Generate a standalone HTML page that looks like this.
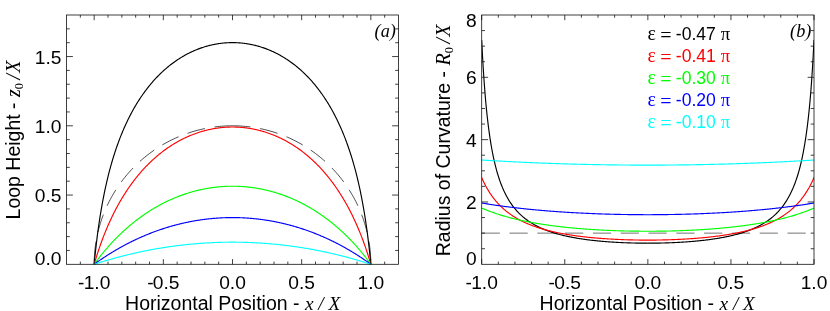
<!DOCTYPE html>
<html><head><meta charset="utf-8"><title>chart</title>
<style>html,body{margin:0;padding:0;background:#fff;overflow:hidden}svg{display:block;will-change:transform}</style></head>
<body>
<svg width="830" height="311" viewBox="0 0 830 311">
<rect width="830" height="311" fill="#fff"/>
<defs><clipPath id="c2"><rect x="481.7" y="15.0" width="332.3" height="249.3"/></clipPath></defs>
<path d="M94.17 264.30 L94.18 262.12 L94.23 259.95 L94.32 257.78 L94.44 255.60 L94.59 253.43 L94.78 251.27 L95.00 249.10 L95.26 246.94 L95.55 244.79 L95.87 242.63 L96.23 240.49 L96.62 238.35 L97.04 236.21 L97.50 234.09 L97.99 231.97 L98.51 229.86 L99.07 227.75 L99.66 225.66 L100.28 223.58 L100.94 221.50 L101.62 219.44 L102.34 217.38 L103.10 215.34 L103.88 213.31 L104.70 211.30 L105.54 209.30 L106.42 207.31 L107.33 205.33 L108.27 203.37 L109.24 201.42 L110.25 199.49 L111.28 197.58 L112.34 195.68 L113.43 193.80 L114.55 191.93 L115.70 190.09 L116.88 188.26 L118.09 186.45 L119.32 184.66 L120.59 182.89 L121.88 181.14 L123.20 179.41 L124.54 177.70 L125.91 176.02 L127.31 174.35 L128.73 172.71 L130.18 171.09 L131.66 169.49 L133.16 167.92 L134.68 166.37 L136.23 164.84 L137.80 163.34 L139.40 161.86 L141.02 160.41 L142.66 158.98 L144.32 157.58 L146.01 156.21 L147.71 154.86 L149.44 153.54 L151.19 152.25 L152.96 150.99 L154.75 149.75 L156.55 148.54 L158.38 147.36 L160.22 146.21 L162.08 145.09 L163.96 143.99 L165.86 142.93 L167.77 141.90 L169.70 140.90 L171.64 139.92 L173.60 138.98 L175.57 138.07 L177.56 137.19 L179.56 136.34 L181.58 135.53 L183.60 134.74 L185.64 133.99 L187.69 133.27 L189.75 132.58 L191.82 131.92 L193.91 131.30 L196.00 130.71 L198.10 130.15 L200.21 129.63 L202.32 129.14 L204.45 128.68 L206.58 128.25 L208.72 127.86 L210.86 127.51 L213.01 127.18 L215.16 126.89 L217.32 126.64 L219.48 126.41 L221.65 126.23 L223.81 126.07 L225.98 125.95 L228.15 125.87 L230.33 125.82 L232.50 125.80" fill="none" stroke="#000" stroke-width="0.7" stroke-linejoin="round" stroke-dasharray="18.2 9.6" stroke-dashoffset="23.0"/>
<path d="M370.83 264.30 L370.82 262.12 L370.77 259.95 L370.68 257.78 L370.56 255.60 L370.41 253.43 L370.22 251.27 L370.00 249.10 L369.74 246.94 L369.45 244.79 L369.13 242.63 L368.77 240.49 L368.38 238.35 L367.96 236.21 L367.50 234.09 L367.01 231.97 L366.49 229.86 L365.93 227.75 L365.34 225.66 L364.72 223.58 L364.06 221.50 L363.38 219.44 L362.66 217.38 L361.90 215.34 L361.12 213.31 L360.30 211.30 L359.46 209.30 L358.58 207.31 L357.67 205.33 L356.73 203.37 L355.76 201.42 L354.75 199.49 L353.72 197.58 L352.66 195.68 L351.57 193.80 L350.45 191.93 L349.30 190.09 L348.12 188.26 L346.91 186.45 L345.68 184.66 L344.41 182.89 L343.12 181.14 L341.80 179.41 L340.46 177.70 L339.09 176.02 L337.69 174.35 L336.27 172.71 L334.82 171.09 L333.34 169.49 L331.84 167.92 L330.32 166.37 L328.77 164.84 L327.20 163.34 L325.60 161.86 L323.98 160.41 L322.34 158.98 L320.68 157.58 L318.99 156.21 L317.29 154.86 L315.56 153.54 L313.81 152.25 L312.04 150.99 L310.25 149.75 L308.45 148.54 L306.62 147.36 L304.78 146.21 L302.92 145.09 L301.04 143.99 L299.14 142.93 L297.23 141.90 L295.30 140.90 L293.36 139.92 L291.40 138.98 L289.43 138.07 L287.44 137.19 L285.44 136.34 L283.42 135.53 L281.40 134.74 L279.36 133.99 L277.31 133.27 L275.25 132.58 L273.18 131.92 L271.09 131.30 L269.00 130.71 L266.90 130.15 L264.79 129.63 L262.68 129.14 L260.55 128.68 L258.42 128.25 L256.28 127.86 L254.14 127.51 L251.99 127.18 L249.84 126.89 L247.68 126.64 L245.52 126.41 L243.35 126.23 L241.19 126.07 L239.02 125.95 L236.85 125.87 L234.67 125.82 L232.50 125.80" fill="none" stroke="#000" stroke-width="0.7" stroke-linejoin="round" stroke-dasharray="18.2 9.6" stroke-dashoffset="23.0"/>
<path d="M94.17 264.30 L94.86 257.25 L95.55 250.70 L96.24 244.57 L96.93 238.83 L97.62 233.43 L98.32 228.32 L99.01 223.49 L99.70 218.89 L100.39 214.52 L101.08 210.34 L101.78 206.35 L102.47 202.52 L103.16 198.85 L103.85 195.33 L104.54 191.93 L105.23 188.66 L105.92 185.51 L106.62 182.46 L107.31 179.51 L108.00 176.66 L108.69 173.90 L109.38 171.22 L110.07 168.62 L110.77 166.10 L111.46 163.64 L112.15 161.26 L112.84 158.93 L113.53 156.67 L114.22 154.47 L114.92 152.32 L115.61 150.23 L116.30 148.19 L116.99 146.19 L117.68 144.24 L118.38 142.34 L119.07 140.48 L119.76 138.66 L120.45 136.88 L121.14 135.14 L121.83 133.44 L122.53 131.77 L123.22 130.13 L123.91 128.53 L124.60 126.96 L125.29 125.42 L125.98 123.91 L126.67 122.43 L127.37 120.98 L128.06 119.55 L128.75 118.15 L129.44 116.78 L130.13 115.43 L130.82 114.11 L131.52 112.81 L132.21 111.53 L132.90 110.27 L133.59 109.04 L134.28 107.83 L134.97 106.63 L135.67 105.46 L136.36 104.31 L137.05 103.17 L137.74 102.06 L138.43 100.96 L139.12 99.88 L139.82 98.82 L140.51 97.78 L141.20 96.75 L141.89 95.74 L142.58 94.74 L143.27 93.76 L143.97 92.79 L144.66 91.84 L145.35 90.91 L146.04 89.98 L146.73 89.08 L147.43 88.18 L148.12 87.30 L148.81 86.43 L149.50 85.58 L150.19 84.74 L150.88 83.91 L151.57 83.09 L152.27 82.29 L152.96 81.49 L153.65 80.71 L154.34 79.94 L155.03 79.19 L155.73 78.44 L156.42 77.70 L157.11 76.98 L157.80 76.26 L158.49 75.56 L159.18 74.87 L159.88 74.18 L160.57 73.51 L161.26 72.85 L161.95 72.19 L162.64 71.55 L163.33 70.91 L164.02 70.29 L164.72 69.67 L165.41 69.06 L166.10 68.47 L166.79 67.88 L167.48 67.30 L168.18 66.72 L168.87 66.16 L169.56 65.61 L170.25 65.06 L170.94 64.52 L171.63 63.99 L172.32 63.47 L173.02 62.95 L173.71 62.45 L174.40 61.95 L175.09 61.46 L175.78 60.98 L176.47 60.50 L177.17 60.03 L177.86 59.57 L178.55 59.12 L179.24 58.67 L179.93 58.23 L180.62 57.80 L181.32 57.38 L182.01 56.96 L182.70 56.55 L183.39 56.15 L184.08 55.75 L184.78 55.36 L185.47 54.97 L186.16 54.60 L186.85 54.23 L187.54 53.86 L188.23 53.51 L188.93 53.16 L189.62 52.81 L190.31 52.47 L191.00 52.14 L191.69 51.82 L192.38 51.50 L193.07 51.18 L193.77 50.88 L194.46 50.58 L195.15 50.28 L195.84 49.99 L196.53 49.71 L197.22 49.43 L197.92 49.16 L198.61 48.90 L199.30 48.64 L199.99 48.39 L200.68 48.14 L201.38 47.90 L202.07 47.66 L202.76 47.43 L203.45 47.21 L204.14 46.99 L204.83 46.77 L205.53 46.57 L206.22 46.36 L206.91 46.17 L207.60 45.97 L208.29 45.79 L208.98 45.61 L209.67 45.43 L210.37 45.26 L211.06 45.10 L211.75 44.94 L212.44 44.79 L213.13 44.64 L213.82 44.50 L214.52 44.36 L215.21 44.23 L215.90 44.10 L216.59 43.98 L217.28 43.86 L217.97 43.75 L218.67 43.65 L219.36 43.55 L220.05 43.45 L220.74 43.36 L221.43 43.28 L222.12 43.20 L222.82 43.12 L223.51 43.05 L224.20 42.99 L224.89 42.93 L225.58 42.88 L226.28 42.83 L226.97 42.79 L227.66 42.75 L228.35 42.71 L229.04 42.69 L229.73 42.66 L230.43 42.65 L231.12 42.63 L231.81 42.62 L232.50 42.62 L233.19 42.62 L233.88 42.63 L234.58 42.65 L235.27 42.66 L235.96 42.69 L236.65 42.71 L237.34 42.75 L238.03 42.79 L238.72 42.83 L239.42 42.88 L240.11 42.93 L240.80 42.99 L241.49 43.05 L242.18 43.12 L242.88 43.20 L243.57 43.28 L244.26 43.36 L244.95 43.45 L245.64 43.55 L246.33 43.65 L247.03 43.75 L247.72 43.86 L248.41 43.98 L249.10 44.10 L249.79 44.23 L250.48 44.36 L251.18 44.50 L251.87 44.64 L252.56 44.79 L253.25 44.94 L253.94 45.10 L254.63 45.26 L255.33 45.43 L256.02 45.61 L256.71 45.79 L257.40 45.97 L258.09 46.17 L258.78 46.36 L259.48 46.57 L260.17 46.77 L260.86 46.99 L261.55 47.21 L262.24 47.43 L262.93 47.66 L263.62 47.90 L264.32 48.14 L265.01 48.39 L265.70 48.64 L266.39 48.90 L267.08 49.16 L267.78 49.43 L268.47 49.71 L269.16 49.99 L269.85 50.28 L270.54 50.58 L271.23 50.88 L271.93 51.18 L272.62 51.50 L273.31 51.82 L274.00 52.14 L274.69 52.47 L275.38 52.81 L276.07 53.16 L276.77 53.51 L277.46 53.86 L278.15 54.23 L278.84 54.60 L279.53 54.97 L280.23 55.36 L280.92 55.75 L281.61 56.15 L282.30 56.55 L282.99 56.96 L283.68 57.38 L284.38 57.80 L285.07 58.23 L285.76 58.67 L286.45 59.12 L287.14 59.57 L287.83 60.03 L288.52 60.50 L289.22 60.98 L289.91 61.46 L290.60 61.95 L291.29 62.45 L291.98 62.95 L292.68 63.47 L293.37 63.99 L294.06 64.52 L294.75 65.06 L295.44 65.61 L296.13 66.16 L296.83 66.72 L297.52 67.30 L298.21 67.88 L298.90 68.47 L299.59 69.06 L300.28 69.67 L300.98 70.29 L301.67 70.91 L302.36 71.55 L303.05 72.19 L303.74 72.85 L304.43 73.51 L305.12 74.18 L305.82 74.87 L306.51 75.56 L307.20 76.26 L307.89 76.98 L308.58 77.70 L309.27 78.44 L309.97 79.19 L310.66 79.94 L311.35 80.71 L312.04 81.49 L312.73 82.29 L313.43 83.09 L314.12 83.91 L314.81 84.74 L315.50 85.58 L316.19 86.43 L316.88 87.30 L317.57 88.18 L318.27 89.08 L318.96 89.98 L319.65 90.91 L320.34 91.84 L321.03 92.79 L321.73 93.76 L322.42 94.74 L323.11 95.74 L323.80 96.75 L324.49 97.78 L325.18 98.82 L325.88 99.88 L326.57 100.96 L327.26 102.06 L327.95 103.17 L328.64 104.31 L329.33 105.46 L330.03 106.63 L330.72 107.83 L331.41 109.04 L332.10 110.27 L332.79 111.53 L333.48 112.81 L334.18 114.11 L334.87 115.43 L335.56 116.78 L336.25 118.15 L336.94 119.55 L337.63 120.98 L338.33 122.43 L339.02 123.91 L339.71 125.42 L340.40 126.96 L341.09 128.53 L341.78 130.13 L342.48 131.77 L343.17 133.44 L343.86 135.14 L344.55 136.88 L345.24 138.66 L345.93 140.48 L346.62 142.34 L347.32 144.24 L348.01 146.19 L348.70 148.19 L349.39 150.23 L350.08 152.32 L350.77 154.47 L351.47 156.67 L352.16 158.93 L352.85 161.26 L353.54 163.64 L354.23 166.10 L354.93 168.62 L355.62 171.22 L356.31 173.90 L357.00 176.66 L357.69 179.51 L358.38 182.46 L359.08 185.51 L359.77 188.66 L360.46 191.93 L361.15 195.33 L361.84 198.85 L362.53 202.52 L363.23 206.35 L363.92 210.34 L364.61 214.52 L365.30 218.89 L365.99 223.49 L366.68 228.32 L367.38 233.43 L368.07 238.83 L368.76 244.57 L369.45 250.70 L370.14 257.25 L370.83 264.30" fill="none" stroke="#000000" stroke-width="1.15" stroke-linejoin="round" />
<path d="M94.17 264.30 L94.86 261.94 L95.55 259.64 L96.24 257.40 L96.93 255.20 L97.62 253.05 L98.32 250.95 L99.01 248.89 L99.70 246.87 L100.39 244.90 L101.08 242.97 L101.78 241.07 L102.47 239.21 L103.16 237.39 L103.85 235.60 L104.54 233.85 L105.23 232.13 L105.92 230.44 L106.62 228.78 L107.31 227.15 L108.00 225.55 L108.69 223.98 L109.38 222.43 L110.07 220.91 L110.77 219.42 L111.46 217.95 L112.15 216.51 L112.84 215.09 L113.53 213.69 L114.22 212.31 L114.92 210.96 L115.61 209.62 L116.30 208.31 L116.99 207.02 L117.68 205.75 L118.38 204.49 L119.07 203.26 L119.76 202.05 L120.45 200.85 L121.14 199.67 L121.83 198.50 L122.53 197.36 L123.22 196.23 L123.91 195.12 L124.60 194.02 L125.29 192.94 L125.98 191.87 L126.67 190.82 L127.37 189.78 L128.06 188.76 L128.75 187.75 L129.44 186.75 L130.13 185.77 L130.82 184.80 L131.52 183.85 L132.21 182.91 L132.90 181.98 L133.59 181.06 L134.28 180.15 L134.97 179.26 L135.67 178.38 L136.36 177.51 L137.05 176.65 L137.74 175.80 L138.43 174.97 L139.12 174.14 L139.82 173.33 L140.51 172.52 L141.20 171.73 L141.89 170.95 L142.58 170.17 L143.27 169.41 L143.97 168.66 L144.66 167.91 L145.35 167.18 L146.04 166.45 L146.73 165.74 L147.43 165.03 L148.12 164.33 L148.81 163.65 L149.50 162.97 L150.19 162.29 L150.88 161.63 L151.57 160.98 L152.27 160.33 L152.96 159.70 L153.65 159.07 L154.34 158.45 L155.03 157.83 L155.73 157.23 L156.42 156.63 L157.11 156.04 L157.80 155.46 L158.49 154.88 L159.18 154.32 L159.88 153.76 L160.57 153.21 L161.26 152.66 L161.95 152.12 L162.64 151.59 L163.33 151.07 L164.02 150.55 L164.72 150.04 L165.41 149.54 L166.10 149.05 L166.79 148.56 L167.48 148.07 L168.18 147.60 L168.87 147.13 L169.56 146.67 L170.25 146.21 L170.94 145.76 L171.63 145.32 L172.32 144.88 L173.02 144.45 L173.71 144.02 L174.40 143.60 L175.09 143.19 L175.78 142.78 L176.47 142.38 L177.17 141.99 L177.86 141.60 L178.55 141.21 L179.24 140.84 L179.93 140.46 L180.62 140.10 L181.32 139.74 L182.01 139.38 L182.70 139.03 L183.39 138.69 L184.08 138.35 L184.78 138.02 L185.47 137.69 L186.16 137.37 L186.85 137.06 L187.54 136.74 L188.23 136.44 L188.93 136.14 L189.62 135.84 L190.31 135.55 L191.00 135.27 L191.69 134.99 L192.38 134.72 L193.07 134.45 L193.77 134.18 L194.46 133.93 L195.15 133.67 L195.84 133.42 L196.53 133.18 L197.22 132.94 L197.92 132.71 L198.61 132.48 L199.30 132.26 L199.99 132.04 L200.68 131.82 L201.38 131.61 L202.07 131.41 L202.76 131.21 L203.45 131.02 L204.14 130.83 L204.83 130.64 L205.53 130.46 L206.22 130.29 L206.91 130.12 L207.60 129.95 L208.29 129.79 L208.98 129.63 L209.67 129.48 L210.37 129.33 L211.06 129.19 L211.75 129.05 L212.44 128.92 L213.13 128.79 L213.82 128.67 L214.52 128.55 L215.21 128.43 L215.90 128.32 L216.59 128.22 L217.28 128.12 L217.97 128.02 L218.67 127.93 L219.36 127.84 L220.05 127.76 L220.74 127.68 L221.43 127.61 L222.12 127.54 L222.82 127.47 L223.51 127.41 L224.20 127.36 L224.89 127.30 L225.58 127.26 L226.28 127.21 L226.97 127.18 L227.66 127.14 L228.35 127.11 L229.04 127.09 L229.73 127.07 L230.43 127.05 L231.12 127.04 L231.81 127.04 L232.50 127.03 L233.19 127.04 L233.88 127.04 L234.58 127.05 L235.27 127.07 L235.96 127.09 L236.65 127.11 L237.34 127.14 L238.03 127.18 L238.72 127.21 L239.42 127.26 L240.11 127.30 L240.80 127.36 L241.49 127.41 L242.18 127.47 L242.88 127.54 L243.57 127.61 L244.26 127.68 L244.95 127.76 L245.64 127.84 L246.33 127.93 L247.03 128.02 L247.72 128.12 L248.41 128.22 L249.10 128.32 L249.79 128.43 L250.48 128.55 L251.18 128.67 L251.87 128.79 L252.56 128.92 L253.25 129.05 L253.94 129.19 L254.63 129.33 L255.33 129.48 L256.02 129.63 L256.71 129.79 L257.40 129.95 L258.09 130.12 L258.78 130.29 L259.48 130.46 L260.17 130.64 L260.86 130.83 L261.55 131.02 L262.24 131.21 L262.93 131.41 L263.62 131.61 L264.32 131.82 L265.01 132.04 L265.70 132.26 L266.39 132.48 L267.08 132.71 L267.78 132.94 L268.47 133.18 L269.16 133.42 L269.85 133.67 L270.54 133.93 L271.23 134.18 L271.93 134.45 L272.62 134.72 L273.31 134.99 L274.00 135.27 L274.69 135.55 L275.38 135.84 L276.07 136.14 L276.77 136.44 L277.46 136.74 L278.15 137.06 L278.84 137.37 L279.53 137.69 L280.23 138.02 L280.92 138.35 L281.61 138.69 L282.30 139.03 L282.99 139.38 L283.68 139.74 L284.38 140.10 L285.07 140.46 L285.76 140.84 L286.45 141.21 L287.14 141.60 L287.83 141.99 L288.52 142.38 L289.22 142.78 L289.91 143.19 L290.60 143.60 L291.29 144.02 L291.98 144.45 L292.68 144.88 L293.37 145.32 L294.06 145.76 L294.75 146.21 L295.44 146.67 L296.13 147.13 L296.83 147.60 L297.52 148.07 L298.21 148.56 L298.90 149.05 L299.59 149.54 L300.28 150.04 L300.98 150.55 L301.67 151.07 L302.36 151.59 L303.05 152.12 L303.74 152.66 L304.43 153.21 L305.12 153.76 L305.82 154.32 L306.51 154.88 L307.20 155.46 L307.89 156.04 L308.58 156.63 L309.27 157.23 L309.97 157.83 L310.66 158.45 L311.35 159.07 L312.04 159.70 L312.73 160.33 L313.43 160.98 L314.12 161.63 L314.81 162.29 L315.50 162.97 L316.19 163.65 L316.88 164.33 L317.57 165.03 L318.27 165.74 L318.96 166.45 L319.65 167.18 L320.34 167.91 L321.03 168.66 L321.73 169.41 L322.42 170.17 L323.11 170.95 L323.80 171.73 L324.49 172.52 L325.18 173.33 L325.88 174.14 L326.57 174.97 L327.26 175.80 L327.95 176.65 L328.64 177.51 L329.33 178.38 L330.03 179.26 L330.72 180.15 L331.41 181.06 L332.10 181.98 L332.79 182.91 L333.48 183.85 L334.18 184.80 L334.87 185.77 L335.56 186.75 L336.25 187.75 L336.94 188.76 L337.63 189.78 L338.33 190.82 L339.02 191.87 L339.71 192.94 L340.40 194.02 L341.09 195.12 L341.78 196.23 L342.48 197.36 L343.17 198.50 L343.86 199.67 L344.55 200.85 L345.24 202.05 L345.93 203.26 L346.62 204.49 L347.32 205.75 L348.01 207.02 L348.70 208.31 L349.39 209.62 L350.08 210.96 L350.77 212.31 L351.47 213.69 L352.16 215.09 L352.85 216.51 L353.54 217.95 L354.23 219.42 L354.93 220.91 L355.62 222.43 L356.31 223.98 L357.00 225.55 L357.69 227.15 L358.38 228.78 L359.08 230.44 L359.77 232.13 L360.46 233.85 L361.15 235.60 L361.84 237.39 L362.53 239.21 L363.23 241.07 L363.92 242.97 L364.61 244.90 L365.30 246.87 L365.99 248.89 L366.68 250.95 L367.38 253.05 L368.07 255.20 L368.76 257.40 L369.45 259.64 L370.14 261.94 L370.83 264.30" fill="none" stroke="#ff0000" stroke-width="1.15" stroke-linejoin="round" />
<path d="M94.17 264.30 L94.86 263.35 L95.55 262.41 L96.24 261.48 L96.93 260.56 L97.62 259.65 L98.32 258.75 L99.01 257.85 L99.70 256.97 L100.39 256.09 L101.08 255.22 L101.78 254.36 L102.47 253.51 L103.16 252.67 L103.85 251.83 L104.54 251.00 L105.23 250.18 L105.92 249.37 L106.62 248.57 L107.31 247.77 L108.00 246.98 L108.69 246.20 L109.38 245.42 L110.07 244.66 L110.77 243.90 L111.46 243.14 L112.15 242.40 L112.84 241.66 L113.53 240.93 L114.22 240.20 L114.92 239.49 L115.61 238.77 L116.30 238.07 L116.99 237.37 L117.68 236.68 L118.38 235.99 L119.07 235.32 L119.76 234.64 L120.45 233.98 L121.14 233.32 L121.83 232.67 L122.53 232.02 L123.22 231.38 L123.91 230.74 L124.60 230.11 L125.29 229.49 L125.98 228.87 L126.67 228.26 L127.37 227.66 L128.06 227.06 L128.75 226.46 L129.44 225.87 L130.13 225.29 L130.82 224.71 L131.52 224.14 L132.21 223.57 L132.90 223.01 L133.59 222.46 L134.28 221.91 L134.97 221.36 L135.67 220.82 L136.36 220.29 L137.05 219.76 L137.74 219.23 L138.43 218.71 L139.12 218.20 L139.82 217.69 L140.51 217.19 L141.20 216.69 L141.89 216.19 L142.58 215.71 L143.27 215.22 L143.97 214.74 L144.66 214.27 L145.35 213.80 L146.04 213.33 L146.73 212.87 L147.43 212.42 L148.12 211.96 L148.81 211.52 L149.50 211.08 L150.19 210.64 L150.88 210.21 L151.57 209.78 L152.27 209.36 L152.96 208.94 L153.65 208.52 L154.34 208.11 L155.03 207.71 L155.73 207.30 L156.42 206.91 L157.11 206.51 L157.80 206.13 L158.49 205.74 L159.18 205.36 L159.88 204.99 L160.57 204.61 L161.26 204.25 L161.95 203.88 L162.64 203.52 L163.33 203.17 L164.02 202.82 L164.72 202.47 L165.41 202.13 L166.10 201.79 L166.79 201.46 L167.48 201.13 L168.18 200.80 L168.87 200.48 L169.56 200.16 L170.25 199.84 L170.94 199.53 L171.63 199.23 L172.32 198.92 L173.02 198.62 L173.71 198.33 L174.40 198.04 L175.09 197.75 L175.78 197.47 L176.47 197.19 L177.17 196.91 L177.86 196.64 L178.55 196.37 L179.24 196.10 L179.93 195.84 L180.62 195.59 L181.32 195.33 L182.01 195.08 L182.70 194.84 L183.39 194.59 L184.08 194.35 L184.78 194.12 L185.47 193.89 L186.16 193.66 L186.85 193.44 L187.54 193.21 L188.23 193.00 L188.93 192.78 L189.62 192.57 L190.31 192.37 L191.00 192.16 L191.69 191.96 L192.38 191.77 L193.07 191.58 L193.77 191.39 L194.46 191.20 L195.15 191.02 L195.84 190.84 L196.53 190.67 L197.22 190.50 L197.92 190.33 L198.61 190.16 L199.30 190.00 L199.99 189.84 L200.68 189.69 L201.38 189.54 L202.07 189.39 L202.76 189.25 L203.45 189.11 L204.14 188.97 L204.83 188.84 L205.53 188.71 L206.22 188.58 L206.91 188.46 L207.60 188.33 L208.29 188.22 L208.98 188.10 L209.67 187.99 L210.37 187.89 L211.06 187.78 L211.75 187.68 L212.44 187.59 L213.13 187.49 L213.82 187.40 L214.52 187.32 L215.21 187.23 L215.90 187.15 L216.59 187.07 L217.28 187.00 L217.97 186.93 L218.67 186.86 L219.36 186.80 L220.05 186.74 L220.74 186.68 L221.43 186.63 L222.12 186.58 L222.82 186.53 L223.51 186.49 L224.20 186.45 L224.89 186.41 L225.58 186.37 L226.28 186.34 L226.97 186.31 L227.66 186.29 L228.35 186.27 L229.04 186.25 L229.73 186.24 L230.43 186.22 L231.12 186.22 L231.81 186.21 L232.50 186.21 L233.19 186.21 L233.88 186.22 L234.58 186.22 L235.27 186.24 L235.96 186.25 L236.65 186.27 L237.34 186.29 L238.03 186.31 L238.72 186.34 L239.42 186.37 L240.11 186.41 L240.80 186.45 L241.49 186.49 L242.18 186.53 L242.88 186.58 L243.57 186.63 L244.26 186.68 L244.95 186.74 L245.64 186.80 L246.33 186.86 L247.03 186.93 L247.72 187.00 L248.41 187.07 L249.10 187.15 L249.79 187.23 L250.48 187.32 L251.18 187.40 L251.87 187.49 L252.56 187.59 L253.25 187.68 L253.94 187.78 L254.63 187.89 L255.33 187.99 L256.02 188.10 L256.71 188.22 L257.40 188.33 L258.09 188.46 L258.78 188.58 L259.48 188.71 L260.17 188.84 L260.86 188.97 L261.55 189.11 L262.24 189.25 L262.93 189.39 L263.62 189.54 L264.32 189.69 L265.01 189.84 L265.70 190.00 L266.39 190.16 L267.08 190.33 L267.78 190.50 L268.47 190.67 L269.16 190.84 L269.85 191.02 L270.54 191.20 L271.23 191.39 L271.93 191.58 L272.62 191.77 L273.31 191.96 L274.00 192.16 L274.69 192.37 L275.38 192.57 L276.07 192.78 L276.77 193.00 L277.46 193.21 L278.15 193.44 L278.84 193.66 L279.53 193.89 L280.23 194.12 L280.92 194.35 L281.61 194.59 L282.30 194.84 L282.99 195.08 L283.68 195.33 L284.38 195.59 L285.07 195.84 L285.76 196.10 L286.45 196.37 L287.14 196.64 L287.83 196.91 L288.52 197.19 L289.22 197.47 L289.91 197.75 L290.60 198.04 L291.29 198.33 L291.98 198.62 L292.68 198.92 L293.37 199.23 L294.06 199.53 L294.75 199.84 L295.44 200.16 L296.13 200.48 L296.83 200.80 L297.52 201.13 L298.21 201.46 L298.90 201.79 L299.59 202.13 L300.28 202.47 L300.98 202.82 L301.67 203.17 L302.36 203.52 L303.05 203.88 L303.74 204.25 L304.43 204.61 L305.12 204.99 L305.82 205.36 L306.51 205.74 L307.20 206.13 L307.89 206.51 L308.58 206.91 L309.27 207.30 L309.97 207.71 L310.66 208.11 L311.35 208.52 L312.04 208.94 L312.73 209.36 L313.43 209.78 L314.12 210.21 L314.81 210.64 L315.50 211.08 L316.19 211.52 L316.88 211.96 L317.57 212.42 L318.27 212.87 L318.96 213.33 L319.65 213.80 L320.34 214.27 L321.03 214.74 L321.73 215.22 L322.42 215.71 L323.11 216.19 L323.80 216.69 L324.49 217.19 L325.18 217.69 L325.88 218.20 L326.57 218.71 L327.26 219.23 L327.95 219.76 L328.64 220.29 L329.33 220.82 L330.03 221.36 L330.72 221.91 L331.41 222.46 L332.10 223.01 L332.79 223.57 L333.48 224.14 L334.18 224.71 L334.87 225.29 L335.56 225.87 L336.25 226.46 L336.94 227.06 L337.63 227.66 L338.33 228.26 L339.02 228.87 L339.71 229.49 L340.40 230.11 L341.09 230.74 L341.78 231.38 L342.48 232.02 L343.17 232.67 L343.86 233.32 L344.55 233.98 L345.24 234.64 L345.93 235.32 L346.62 235.99 L347.32 236.68 L348.01 237.37 L348.70 238.07 L349.39 238.77 L350.08 239.49 L350.77 240.20 L351.47 240.93 L352.16 241.66 L352.85 242.40 L353.54 243.14 L354.23 243.90 L354.93 244.66 L355.62 245.42 L356.31 246.20 L357.00 246.98 L357.69 247.77 L358.38 248.57 L359.08 249.37 L359.77 250.18 L360.46 251.00 L361.15 251.83 L361.84 252.67 L362.53 253.51 L363.23 254.36 L363.92 255.22 L364.61 256.09 L365.30 256.97 L365.99 257.85 L366.68 258.75 L367.38 259.65 L368.07 260.56 L368.76 261.48 L369.45 262.41 L370.14 263.35 L370.83 264.30" fill="none" stroke="#00ff00" stroke-width="1.15" stroke-linejoin="round" />
<path d="M94.17 264.30 L94.86 263.80 L95.55 263.30 L96.24 262.81 L96.93 262.31 L97.62 261.83 L98.32 261.34 L99.01 260.86 L99.70 260.38 L100.39 259.90 L101.08 259.43 L101.78 258.96 L102.47 258.50 L103.16 258.03 L103.85 257.58 L104.54 257.12 L105.23 256.67 L105.92 256.22 L106.62 255.77 L107.31 255.32 L108.00 254.88 L108.69 254.45 L109.38 254.01 L110.07 253.58 L110.77 253.15 L111.46 252.72 L112.15 252.30 L112.84 251.88 L113.53 251.46 L114.22 251.05 L114.92 250.64 L115.61 250.23 L116.30 249.83 L116.99 249.42 L117.68 249.02 L118.38 248.63 L119.07 248.23 L119.76 247.84 L120.45 247.46 L121.14 247.07 L121.83 246.69 L122.53 246.31 L123.22 245.93 L123.91 245.56 L124.60 245.19 L125.29 244.82 L125.98 244.45 L126.67 244.09 L127.37 243.73 L128.06 243.38 L128.75 243.02 L129.44 242.67 L130.13 242.32 L130.82 241.98 L131.52 241.63 L132.21 241.29 L132.90 240.95 L133.59 240.62 L134.28 240.29 L134.97 239.96 L135.67 239.63 L136.36 239.30 L137.05 238.98 L137.74 238.66 L138.43 238.35 L139.12 238.03 L139.82 237.72 L140.51 237.41 L141.20 237.11 L141.89 236.80 L142.58 236.50 L143.27 236.20 L143.97 235.91 L144.66 235.61 L145.35 235.32 L146.04 235.04 L146.73 234.75 L147.43 234.47 L148.12 234.19 L148.81 233.91 L149.50 233.63 L150.19 233.36 L150.88 233.09 L151.57 232.82 L152.27 232.56 L152.96 232.29 L153.65 232.03 L154.34 231.77 L155.03 231.52 L155.73 231.27 L156.42 231.02 L157.11 230.77 L157.80 230.52 L158.49 230.28 L159.18 230.04 L159.88 229.80 L160.57 229.56 L161.26 229.33 L161.95 229.10 L162.64 228.87 L163.33 228.64 L164.02 228.42 L164.72 228.20 L165.41 227.98 L166.10 227.76 L166.79 227.55 L167.48 227.34 L168.18 227.13 L168.87 226.92 L169.56 226.72 L170.25 226.51 L170.94 226.31 L171.63 226.12 L172.32 225.92 L173.02 225.73 L173.71 225.54 L174.40 225.35 L175.09 225.16 L175.78 224.98 L176.47 224.80 L177.17 224.62 L177.86 224.44 L178.55 224.27 L179.24 224.10 L179.93 223.93 L180.62 223.76 L181.32 223.59 L182.01 223.43 L182.70 223.27 L183.39 223.11 L184.08 222.96 L184.78 222.80 L185.47 222.65 L186.16 222.50 L186.85 222.36 L187.54 222.21 L188.23 222.07 L188.93 221.93 L189.62 221.79 L190.31 221.66 L191.00 221.52 L191.69 221.39 L192.38 221.26 L193.07 221.14 L193.77 221.01 L194.46 220.89 L195.15 220.77 L195.84 220.65 L196.53 220.54 L197.22 220.42 L197.92 220.31 L198.61 220.21 L199.30 220.10 L199.99 219.99 L200.68 219.89 L201.38 219.79 L202.07 219.70 L202.76 219.60 L203.45 219.51 L204.14 219.42 L204.83 219.33 L205.53 219.24 L206.22 219.16 L206.91 219.08 L207.60 219.00 L208.29 218.92 L208.98 218.84 L209.67 218.77 L210.37 218.70 L211.06 218.63 L211.75 218.56 L212.44 218.50 L213.13 218.44 L213.82 218.38 L214.52 218.32 L215.21 218.26 L215.90 218.21 L216.59 218.16 L217.28 218.11 L217.97 218.06 L218.67 218.02 L219.36 217.98 L220.05 217.94 L220.74 217.90 L221.43 217.86 L222.12 217.83 L222.82 217.80 L223.51 217.77 L224.20 217.74 L224.89 217.71 L225.58 217.69 L226.28 217.67 L226.97 217.65 L227.66 217.64 L228.35 217.62 L229.04 217.61 L229.73 217.60 L230.43 217.59 L231.12 217.59 L231.81 217.58 L232.50 217.58 L233.19 217.58 L233.88 217.59 L234.58 217.59 L235.27 217.60 L235.96 217.61 L236.65 217.62 L237.34 217.64 L238.03 217.65 L238.72 217.67 L239.42 217.69 L240.11 217.71 L240.80 217.74 L241.49 217.77 L242.18 217.80 L242.88 217.83 L243.57 217.86 L244.26 217.90 L244.95 217.94 L245.64 217.98 L246.33 218.02 L247.03 218.06 L247.72 218.11 L248.41 218.16 L249.10 218.21 L249.79 218.26 L250.48 218.32 L251.18 218.38 L251.87 218.44 L252.56 218.50 L253.25 218.56 L253.94 218.63 L254.63 218.70 L255.33 218.77 L256.02 218.84 L256.71 218.92 L257.40 219.00 L258.09 219.08 L258.78 219.16 L259.48 219.24 L260.17 219.33 L260.86 219.42 L261.55 219.51 L262.24 219.60 L262.93 219.70 L263.62 219.79 L264.32 219.89 L265.01 219.99 L265.70 220.10 L266.39 220.21 L267.08 220.31 L267.78 220.42 L268.47 220.54 L269.16 220.65 L269.85 220.77 L270.54 220.89 L271.23 221.01 L271.93 221.14 L272.62 221.26 L273.31 221.39 L274.00 221.52 L274.69 221.66 L275.38 221.79 L276.07 221.93 L276.77 222.07 L277.46 222.21 L278.15 222.36 L278.84 222.50 L279.53 222.65 L280.23 222.80 L280.92 222.96 L281.61 223.11 L282.30 223.27 L282.99 223.43 L283.68 223.59 L284.38 223.76 L285.07 223.93 L285.76 224.10 L286.45 224.27 L287.14 224.44 L287.83 224.62 L288.52 224.80 L289.22 224.98 L289.91 225.16 L290.60 225.35 L291.29 225.54 L291.98 225.73 L292.68 225.92 L293.37 226.12 L294.06 226.31 L294.75 226.51 L295.44 226.72 L296.13 226.92 L296.83 227.13 L297.52 227.34 L298.21 227.55 L298.90 227.76 L299.59 227.98 L300.28 228.20 L300.98 228.42 L301.67 228.64 L302.36 228.87 L303.05 229.10 L303.74 229.33 L304.43 229.56 L305.12 229.80 L305.82 230.04 L306.51 230.28 L307.20 230.52 L307.89 230.77 L308.58 231.02 L309.27 231.27 L309.97 231.52 L310.66 231.77 L311.35 232.03 L312.04 232.29 L312.73 232.56 L313.43 232.82 L314.12 233.09 L314.81 233.36 L315.50 233.63 L316.19 233.91 L316.88 234.19 L317.57 234.47 L318.27 234.75 L318.96 235.04 L319.65 235.32 L320.34 235.61 L321.03 235.91 L321.73 236.20 L322.42 236.50 L323.11 236.80 L323.80 237.11 L324.49 237.41 L325.18 237.72 L325.88 238.03 L326.57 238.35 L327.26 238.66 L327.95 238.98 L328.64 239.30 L329.33 239.63 L330.03 239.96 L330.72 240.29 L331.41 240.62 L332.10 240.95 L332.79 241.29 L333.48 241.63 L334.18 241.98 L334.87 242.32 L335.56 242.67 L336.25 243.02 L336.94 243.38 L337.63 243.73 L338.33 244.09 L339.02 244.45 L339.71 244.82 L340.40 245.19 L341.09 245.56 L341.78 245.93 L342.48 246.31 L343.17 246.69 L343.86 247.07 L344.55 247.46 L345.24 247.84 L345.93 248.23 L346.62 248.63 L347.32 249.02 L348.01 249.42 L348.70 249.83 L349.39 250.23 L350.08 250.64 L350.77 251.05 L351.47 251.46 L352.16 251.88 L352.85 252.30 L353.54 252.72 L354.23 253.15 L354.93 253.58 L355.62 254.01 L356.31 254.45 L357.00 254.88 L357.69 255.32 L358.38 255.77 L359.08 256.22 L359.77 256.67 L360.46 257.12 L361.15 257.58 L361.84 258.03 L362.53 258.50 L363.23 258.96 L363.92 259.43 L364.61 259.90 L365.30 260.38 L365.99 260.86 L366.68 261.34 L367.38 261.83 L368.07 262.31 L368.76 262.81 L369.45 263.30 L370.14 263.80 L370.83 264.30" fill="none" stroke="#0000ff" stroke-width="1.15" stroke-linejoin="round" />
<path d="M94.17 264.30 L94.86 264.08 L95.55 263.85 L96.24 263.63 L96.93 263.41 L97.62 263.19 L98.32 262.97 L99.01 262.75 L99.70 262.54 L100.39 262.32 L101.08 262.11 L101.78 261.90 L102.47 261.69 L103.16 261.48 L103.85 261.27 L104.54 261.06 L105.23 260.85 L105.92 260.65 L106.62 260.44 L107.31 260.24 L108.00 260.04 L108.69 259.84 L109.38 259.64 L110.07 259.44 L110.77 259.24 L111.46 259.05 L112.15 258.85 L112.84 258.66 L113.53 258.47 L114.22 258.28 L114.92 258.09 L115.61 257.90 L116.30 257.71 L116.99 257.52 L117.68 257.34 L118.38 257.15 L119.07 256.97 L119.76 256.79 L120.45 256.61 L121.14 256.43 L121.83 256.25 L122.53 256.07 L123.22 255.90 L123.91 255.72 L124.60 255.55 L125.29 255.37 L125.98 255.20 L126.67 255.03 L127.37 254.86 L128.06 254.70 L128.75 254.53 L129.44 254.36 L130.13 254.20 L130.82 254.04 L131.52 253.87 L132.21 253.71 L132.90 253.55 L133.59 253.39 L134.28 253.24 L134.97 253.08 L135.67 252.92 L136.36 252.77 L137.05 252.62 L137.74 252.46 L138.43 252.31 L139.12 252.16 L139.82 252.02 L140.51 251.87 L141.20 251.72 L141.89 251.58 L142.58 251.43 L143.27 251.29 L143.97 251.15 L144.66 251.01 L145.35 250.87 L146.04 250.73 L146.73 250.59 L147.43 250.46 L148.12 250.32 L148.81 250.19 L149.50 250.06 L150.19 249.92 L150.88 249.79 L151.57 249.66 L152.27 249.54 L152.96 249.41 L153.65 249.28 L154.34 249.16 L155.03 249.03 L155.73 248.91 L156.42 248.79 L157.11 248.67 L157.80 248.55 L158.49 248.43 L159.18 248.32 L159.88 248.20 L160.57 248.09 L161.26 247.97 L161.95 247.86 L162.64 247.75 L163.33 247.64 L164.02 247.53 L164.72 247.42 L165.41 247.31 L166.10 247.21 L166.79 247.10 L167.48 247.00 L168.18 246.90 L168.87 246.80 L169.56 246.70 L170.25 246.60 L170.94 246.50 L171.63 246.40 L172.32 246.31 L173.02 246.21 L173.71 246.12 L174.40 246.03 L175.09 245.93 L175.78 245.84 L176.47 245.76 L177.17 245.67 L177.86 245.58 L178.55 245.49 L179.24 245.41 L179.93 245.33 L180.62 245.24 L181.32 245.16 L182.01 245.08 L182.70 245.00 L183.39 244.92 L184.08 244.85 L184.78 244.77 L185.47 244.70 L186.16 244.62 L186.85 244.55 L187.54 244.48 L188.23 244.41 L188.93 244.34 L189.62 244.27 L190.31 244.20 L191.00 244.14 L191.69 244.07 L192.38 244.01 L193.07 243.95 L193.77 243.88 L194.46 243.82 L195.15 243.76 L195.84 243.71 L196.53 243.65 L197.22 243.59 L197.92 243.54 L198.61 243.48 L199.30 243.43 L199.99 243.38 L200.68 243.33 L201.38 243.28 L202.07 243.23 L202.76 243.18 L203.45 243.14 L204.14 243.09 L204.83 243.05 L205.53 243.00 L206.22 242.96 L206.91 242.92 L207.60 242.88 L208.29 242.84 L208.98 242.81 L209.67 242.77 L210.37 242.73 L211.06 242.70 L211.75 242.67 L212.44 242.63 L213.13 242.60 L213.82 242.57 L214.52 242.54 L215.21 242.52 L215.90 242.49 L216.59 242.46 L217.28 242.44 L217.97 242.42 L218.67 242.39 L219.36 242.37 L220.05 242.35 L220.74 242.33 L221.43 242.32 L222.12 242.30 L222.82 242.28 L223.51 242.27 L224.20 242.26 L224.89 242.24 L225.58 242.23 L226.28 242.22 L226.97 242.21 L227.66 242.20 L228.35 242.20 L229.04 242.19 L229.73 242.19 L230.43 242.18 L231.12 242.18 L231.81 242.18 L232.50 242.18 L233.19 242.18 L233.88 242.18 L234.58 242.18 L235.27 242.19 L235.96 242.19 L236.65 242.20 L237.34 242.20 L238.03 242.21 L238.72 242.22 L239.42 242.23 L240.11 242.24 L240.80 242.26 L241.49 242.27 L242.18 242.28 L242.88 242.30 L243.57 242.32 L244.26 242.33 L244.95 242.35 L245.64 242.37 L246.33 242.39 L247.03 242.42 L247.72 242.44 L248.41 242.46 L249.10 242.49 L249.79 242.52 L250.48 242.54 L251.18 242.57 L251.87 242.60 L252.56 242.63 L253.25 242.67 L253.94 242.70 L254.63 242.73 L255.33 242.77 L256.02 242.81 L256.71 242.84 L257.40 242.88 L258.09 242.92 L258.78 242.96 L259.48 243.00 L260.17 243.05 L260.86 243.09 L261.55 243.14 L262.24 243.18 L262.93 243.23 L263.62 243.28 L264.32 243.33 L265.01 243.38 L265.70 243.43 L266.39 243.48 L267.08 243.54 L267.78 243.59 L268.47 243.65 L269.16 243.71 L269.85 243.76 L270.54 243.82 L271.23 243.88 L271.93 243.95 L272.62 244.01 L273.31 244.07 L274.00 244.14 L274.69 244.20 L275.38 244.27 L276.07 244.34 L276.77 244.41 L277.46 244.48 L278.15 244.55 L278.84 244.62 L279.53 244.70 L280.23 244.77 L280.92 244.85 L281.61 244.92 L282.30 245.00 L282.99 245.08 L283.68 245.16 L284.38 245.24 L285.07 245.33 L285.76 245.41 L286.45 245.49 L287.14 245.58 L287.83 245.67 L288.52 245.76 L289.22 245.84 L289.91 245.93 L290.60 246.03 L291.29 246.12 L291.98 246.21 L292.68 246.31 L293.37 246.40 L294.06 246.50 L294.75 246.60 L295.44 246.70 L296.13 246.80 L296.83 246.90 L297.52 247.00 L298.21 247.10 L298.90 247.21 L299.59 247.31 L300.28 247.42 L300.98 247.53 L301.67 247.64 L302.36 247.75 L303.05 247.86 L303.74 247.97 L304.43 248.09 L305.12 248.20 L305.82 248.32 L306.51 248.43 L307.20 248.55 L307.89 248.67 L308.58 248.79 L309.27 248.91 L309.97 249.03 L310.66 249.16 L311.35 249.28 L312.04 249.41 L312.73 249.54 L313.43 249.66 L314.12 249.79 L314.81 249.92 L315.50 250.06 L316.19 250.19 L316.88 250.32 L317.57 250.46 L318.27 250.59 L318.96 250.73 L319.65 250.87 L320.34 251.01 L321.03 251.15 L321.73 251.29 L322.42 251.43 L323.11 251.58 L323.80 251.72 L324.49 251.87 L325.18 252.02 L325.88 252.16 L326.57 252.31 L327.26 252.46 L327.95 252.62 L328.64 252.77 L329.33 252.92 L330.03 253.08 L330.72 253.24 L331.41 253.39 L332.10 253.55 L332.79 253.71 L333.48 253.87 L334.18 254.04 L334.87 254.20 L335.56 254.36 L336.25 254.53 L336.94 254.70 L337.63 254.86 L338.33 255.03 L339.02 255.20 L339.71 255.37 L340.40 255.55 L341.09 255.72 L341.78 255.90 L342.48 256.07 L343.17 256.25 L343.86 256.43 L344.55 256.61 L345.24 256.79 L345.93 256.97 L346.62 257.15 L347.32 257.34 L348.01 257.52 L348.70 257.71 L349.39 257.90 L350.08 258.09 L350.77 258.28 L351.47 258.47 L352.16 258.66 L352.85 258.85 L353.54 259.05 L354.23 259.24 L354.93 259.44 L355.62 259.64 L356.31 259.84 L357.00 260.04 L357.69 260.24 L358.38 260.44 L359.08 260.65 L359.77 260.85 L360.46 261.06 L361.15 261.27 L361.84 261.48 L362.53 261.69 L363.23 261.90 L363.92 262.11 L364.61 262.32 L365.30 262.54 L365.99 262.75 L366.68 262.97 L367.38 263.19 L368.07 263.41 L368.76 263.63 L369.45 263.85 L370.14 264.08 L370.83 264.30" fill="none" stroke="#00ffff" stroke-width="1.15" stroke-linejoin="round" />
<path d="M481.70 233.14 L814.00 233.14" fill="none" stroke="#444" stroke-width="0.75" stroke-linejoin="round" stroke-dasharray="18.2 9.6"/>
<g clip-path="url(#c2)">
<path d="M481.70 40.04 L482.53 56.28 L483.36 70.32 L484.19 82.57 L485.02 93.36 L485.85 102.93 L486.68 111.48 L487.52 119.16 L488.35 126.10 L489.18 132.40 L490.01 138.14 L490.84 143.40 L491.67 148.23 L492.50 152.68 L493.33 156.80 L494.16 160.62 L494.99 164.17 L495.82 167.48 L496.65 170.58 L497.48 173.48 L498.32 176.20 L499.15 178.75 L499.98 181.16 L500.81 183.44 L501.64 185.58 L502.47 187.62 L503.30 189.54 L504.13 191.37 L504.96 193.11 L505.79 194.76 L506.62 196.33 L507.45 197.83 L508.28 199.26 L509.11 200.63 L509.95 201.94 L510.78 203.19 L511.61 204.39 L512.44 205.54 L513.27 206.65 L514.10 207.71 L514.93 208.73 L515.76 209.71 L516.59 210.65 L517.42 211.56 L518.25 212.44 L519.08 213.28 L519.91 214.09 L520.75 214.88 L521.58 215.64 L522.41 216.37 L523.24 217.08 L524.07 217.77 L524.90 218.43 L525.73 219.08 L526.56 219.70 L527.39 220.30 L528.22 220.89 L529.05 221.46 L529.88 222.01 L530.71 222.54 L531.55 223.06 L532.38 223.56 L533.21 224.05 L534.04 224.53 L534.87 224.99 L535.70 225.44 L536.53 225.88 L537.36 226.30 L538.19 226.72 L539.02 227.12 L539.85 227.51 L540.68 227.90 L541.51 228.27 L542.34 228.63 L543.18 228.99 L544.01 229.33 L544.84 229.67 L545.67 230.00 L546.50 230.32 L547.33 230.63 L548.16 230.94 L548.99 231.23 L549.82 231.53 L550.65 231.81 L551.48 232.09 L552.31 232.36 L553.14 232.62 L553.98 232.88 L554.81 233.13 L555.64 233.38 L556.47 233.62 L557.30 233.86 L558.13 234.09 L558.96 234.32 L559.79 234.54 L560.62 234.75 L561.45 234.96 L562.28 235.17 L563.11 235.37 L563.94 235.57 L564.77 235.77 L565.61 235.96 L566.44 236.14 L567.27 236.32 L568.10 236.50 L568.93 236.67 L569.76 236.84 L570.59 237.01 L571.42 237.18 L572.25 237.34 L573.08 237.49 L573.91 237.65 L574.74 237.80 L575.57 237.94 L576.41 238.09 L577.24 238.23 L578.07 238.37 L578.90 238.50 L579.73 238.63 L580.56 238.76 L581.39 238.89 L582.22 239.02 L583.05 239.14 L583.88 239.26 L584.71 239.37 L585.54 239.49 L586.37 239.60 L587.21 239.71 L588.04 239.82 L588.87 239.92 L589.70 240.02 L590.53 240.13 L591.36 240.22 L592.19 240.32 L593.02 240.42 L593.85 240.51 L594.68 240.60 L595.51 240.69 L596.34 240.77 L597.17 240.86 L598.00 240.94 L598.84 241.02 L599.67 241.10 L600.50 241.18 L601.33 241.25 L602.16 241.33 L602.99 241.40 L603.82 241.47 L604.65 241.54 L605.48 241.61 L606.31 241.67 L607.14 241.73 L607.97 241.80 L608.80 241.86 L609.64 241.92 L610.47 241.97 L611.30 242.03 L612.13 242.08 L612.96 242.14 L613.79 242.19 L614.62 242.24 L615.45 242.29 L616.28 242.34 L617.11 242.38 L617.94 242.43 L618.77 242.47 L619.60 242.51 L620.44 242.55 L621.27 242.59 L622.10 242.63 L622.93 242.67 L623.76 242.70 L624.59 242.74 L625.42 242.77 L626.25 242.80 L627.08 242.83 L627.91 242.86 L628.74 242.89 L629.57 242.91 L630.40 242.94 L631.24 242.96 L632.07 242.99 L632.90 243.01 L633.73 243.03 L634.56 243.05 L635.39 243.06 L636.22 243.08 L637.05 243.10 L637.88 243.11 L638.71 243.13 L639.54 243.14 L640.37 243.15 L641.20 243.16 L642.03 243.17 L642.87 243.17 L643.70 243.18 L644.53 243.19 L645.36 243.19 L646.19 243.19 L647.02 243.19 L647.85 243.20 L648.68 243.19 L649.51 243.19 L650.34 243.19 L651.17 243.19 L652.00 243.18 L652.83 243.17 L653.67 243.17 L654.50 243.16 L655.33 243.15 L656.16 243.14 L656.99 243.13 L657.82 243.11 L658.65 243.10 L659.48 243.08 L660.31 243.06 L661.14 243.05 L661.97 243.03 L662.80 243.01 L663.63 242.99 L664.47 242.96 L665.30 242.94 L666.13 242.91 L666.96 242.89 L667.79 242.86 L668.62 242.83 L669.45 242.80 L670.28 242.77 L671.11 242.74 L671.94 242.70 L672.77 242.67 L673.60 242.63 L674.43 242.59 L675.26 242.55 L676.10 242.51 L676.93 242.47 L677.76 242.43 L678.59 242.38 L679.42 242.34 L680.25 242.29 L681.08 242.24 L681.91 242.19 L682.74 242.14 L683.57 242.08 L684.40 242.03 L685.23 241.97 L686.06 241.92 L686.90 241.86 L687.73 241.80 L688.56 241.73 L689.39 241.67 L690.22 241.61 L691.05 241.54 L691.88 241.47 L692.71 241.40 L693.54 241.33 L694.37 241.25 L695.20 241.18 L696.03 241.10 L696.86 241.02 L697.70 240.94 L698.53 240.86 L699.36 240.77 L700.19 240.69 L701.02 240.60 L701.85 240.51 L702.68 240.42 L703.51 240.32 L704.34 240.22 L705.17 240.13 L706.00 240.02 L706.83 239.92 L707.66 239.82 L708.49 239.71 L709.33 239.60 L710.16 239.49 L710.99 239.37 L711.82 239.26 L712.65 239.14 L713.48 239.02 L714.31 238.89 L715.14 238.76 L715.97 238.63 L716.80 238.50 L717.63 238.37 L718.46 238.23 L719.29 238.09 L720.13 237.94 L720.96 237.80 L721.79 237.65 L722.62 237.49 L723.45 237.34 L724.28 237.18 L725.11 237.01 L725.94 236.84 L726.77 236.67 L727.60 236.50 L728.43 236.32 L729.26 236.14 L730.09 235.96 L730.93 235.77 L731.76 235.57 L732.59 235.37 L733.42 235.17 L734.25 234.96 L735.08 234.75 L735.91 234.54 L736.74 234.32 L737.57 234.09 L738.40 233.86 L739.23 233.62 L740.06 233.38 L740.89 233.13 L741.72 232.88 L742.56 232.62 L743.39 232.36 L744.22 232.09 L745.05 231.81 L745.88 231.53 L746.71 231.23 L747.54 230.94 L748.37 230.63 L749.20 230.32 L750.03 230.00 L750.86 229.67 L751.69 229.33 L752.52 228.99 L753.36 228.63 L754.19 228.27 L755.02 227.90 L755.85 227.51 L756.68 227.12 L757.51 226.72 L758.34 226.30 L759.17 225.88 L760.00 225.44 L760.83 224.99 L761.66 224.53 L762.49 224.05 L763.32 223.56 L764.15 223.06 L764.99 222.54 L765.82 222.01 L766.65 221.46 L767.48 220.89 L768.31 220.30 L769.14 219.70 L769.97 219.08 L770.80 218.43 L771.63 217.77 L772.46 217.08 L773.29 216.37 L774.12 215.64 L774.95 214.88 L775.79 214.09 L776.62 213.28 L777.45 212.44 L778.28 211.56 L779.11 210.65 L779.94 209.71 L780.77 208.73 L781.60 207.71 L782.43 206.65 L783.26 205.54 L784.09 204.39 L784.92 203.19 L785.75 201.94 L786.59 200.63 L787.42 199.26 L788.25 197.83 L789.08 196.33 L789.91 194.76 L790.74 193.11 L791.57 191.37 L792.40 189.54 L793.23 187.62 L794.06 185.58 L794.89 183.44 L795.72 181.16 L796.55 178.75 L797.38 176.20 L798.22 173.48 L799.05 170.58 L799.88 167.48 L800.71 164.17 L801.54 160.62 L802.37 156.80 L803.20 152.68 L804.03 148.23 L804.86 143.40 L805.69 138.14 L806.52 132.40 L807.35 126.10 L808.18 119.16 L809.02 111.48 L809.85 102.93 L810.68 93.36 L811.51 82.57 L812.34 70.32 L813.17 56.28 L814.00 40.04" fill="none" stroke="#000000" stroke-width="1.15" stroke-linejoin="round" />
<path d="M481.70 177.58 L482.53 179.46 L483.36 181.26 L484.19 182.98 L485.02 184.62 L485.85 186.20 L486.68 187.71 L487.52 189.16 L488.35 190.56 L489.18 191.90 L490.01 193.19 L490.84 194.43 L491.67 195.63 L492.50 196.78 L493.33 197.89 L494.16 198.97 L494.99 200.01 L495.82 201.01 L496.65 201.98 L497.48 202.91 L498.32 203.82 L499.15 204.70 L499.98 205.55 L500.81 206.37 L501.64 207.17 L502.47 207.95 L503.30 208.70 L504.13 209.43 L504.96 210.14 L505.79 210.83 L506.62 211.50 L507.45 212.15 L508.28 212.78 L509.11 213.40 L509.95 213.99 L510.78 214.58 L511.61 215.14 L512.44 215.70 L513.27 216.24 L514.10 216.76 L514.93 217.27 L515.76 217.77 L516.59 218.26 L517.42 218.73 L518.25 219.19 L519.08 219.64 L519.91 220.09 L520.75 220.52 L521.58 220.94 L522.41 221.35 L523.24 221.75 L524.07 222.14 L524.90 222.52 L525.73 222.90 L526.56 223.26 L527.39 223.62 L528.22 223.97 L529.05 224.31 L529.88 224.65 L530.71 224.98 L531.55 225.30 L532.38 225.61 L533.21 225.92 L534.04 226.22 L534.87 226.52 L535.70 226.81 L536.53 227.09 L537.36 227.37 L538.19 227.64 L539.02 227.90 L539.85 228.16 L540.68 228.42 L541.51 228.67 L542.34 228.92 L543.18 229.16 L544.01 229.39 L544.84 229.62 L545.67 229.85 L546.50 230.07 L547.33 230.29 L548.16 230.51 L548.99 230.72 L549.82 230.92 L550.65 231.13 L551.48 231.32 L552.31 231.52 L553.14 231.71 L553.98 231.90 L554.81 232.08 L555.64 232.26 L556.47 232.44 L557.30 232.61 L558.13 232.79 L558.96 232.95 L559.79 233.12 L560.62 233.28 L561.45 233.44 L562.28 233.60 L563.11 233.75 L563.94 233.90 L564.77 234.05 L565.61 234.19 L566.44 234.33 L567.27 234.47 L568.10 234.61 L568.93 234.75 L569.76 234.88 L570.59 235.01 L571.42 235.14 L572.25 235.26 L573.08 235.38 L573.91 235.50 L574.74 235.62 L575.57 235.74 L576.41 235.85 L577.24 235.97 L578.07 236.08 L578.90 236.18 L579.73 236.29 L580.56 236.39 L581.39 236.50 L582.22 236.60 L583.05 236.70 L583.88 236.79 L584.71 236.89 L585.54 236.98 L586.37 237.07 L587.21 237.16 L588.04 237.25 L588.87 237.34 L589.70 237.42 L590.53 237.50 L591.36 237.59 L592.19 237.67 L593.02 237.74 L593.85 237.82 L594.68 237.90 L595.51 237.97 L596.34 238.04 L597.17 238.11 L598.00 238.18 L598.84 238.25 L599.67 238.31 L600.50 238.38 L601.33 238.44 L602.16 238.51 L602.99 238.57 L603.82 238.63 L604.65 238.68 L605.48 238.74 L606.31 238.80 L607.14 238.85 L607.97 238.90 L608.80 238.95 L609.64 239.00 L610.47 239.05 L611.30 239.10 L612.13 239.15 L612.96 239.19 L613.79 239.24 L614.62 239.28 L615.45 239.32 L616.28 239.36 L617.11 239.40 L617.94 239.44 L618.77 239.48 L619.60 239.51 L620.44 239.55 L621.27 239.58 L622.10 239.62 L622.93 239.65 L623.76 239.68 L624.59 239.71 L625.42 239.74 L626.25 239.76 L627.08 239.79 L627.91 239.81 L628.74 239.84 L629.57 239.86 L630.40 239.88 L631.24 239.90 L632.07 239.92 L632.90 239.94 L633.73 239.96 L634.56 239.98 L635.39 239.99 L636.22 240.01 L637.05 240.02 L637.88 240.03 L638.71 240.05 L639.54 240.06 L640.37 240.07 L641.20 240.07 L642.03 240.08 L642.87 240.09 L643.70 240.09 L644.53 240.10 L645.36 240.10 L646.19 240.10 L647.02 240.11 L647.85 240.11 L648.68 240.11 L649.51 240.10 L650.34 240.10 L651.17 240.10 L652.00 240.09 L652.83 240.09 L653.67 240.08 L654.50 240.07 L655.33 240.07 L656.16 240.06 L656.99 240.05 L657.82 240.03 L658.65 240.02 L659.48 240.01 L660.31 239.99 L661.14 239.98 L661.97 239.96 L662.80 239.94 L663.63 239.92 L664.47 239.90 L665.30 239.88 L666.13 239.86 L666.96 239.84 L667.79 239.81 L668.62 239.79 L669.45 239.76 L670.28 239.74 L671.11 239.71 L671.94 239.68 L672.77 239.65 L673.60 239.62 L674.43 239.58 L675.26 239.55 L676.10 239.51 L676.93 239.48 L677.76 239.44 L678.59 239.40 L679.42 239.36 L680.25 239.32 L681.08 239.28 L681.91 239.24 L682.74 239.19 L683.57 239.15 L684.40 239.10 L685.23 239.05 L686.06 239.00 L686.90 238.95 L687.73 238.90 L688.56 238.85 L689.39 238.80 L690.22 238.74 L691.05 238.68 L691.88 238.63 L692.71 238.57 L693.54 238.51 L694.37 238.44 L695.20 238.38 L696.03 238.31 L696.86 238.25 L697.70 238.18 L698.53 238.11 L699.36 238.04 L700.19 237.97 L701.02 237.90 L701.85 237.82 L702.68 237.74 L703.51 237.67 L704.34 237.59 L705.17 237.50 L706.00 237.42 L706.83 237.34 L707.66 237.25 L708.49 237.16 L709.33 237.07 L710.16 236.98 L710.99 236.89 L711.82 236.79 L712.65 236.70 L713.48 236.60 L714.31 236.50 L715.14 236.39 L715.97 236.29 L716.80 236.18 L717.63 236.08 L718.46 235.97 L719.29 235.85 L720.13 235.74 L720.96 235.62 L721.79 235.50 L722.62 235.38 L723.45 235.26 L724.28 235.14 L725.11 235.01 L725.94 234.88 L726.77 234.75 L727.60 234.61 L728.43 234.47 L729.26 234.33 L730.09 234.19 L730.93 234.05 L731.76 233.90 L732.59 233.75 L733.42 233.60 L734.25 233.44 L735.08 233.28 L735.91 233.12 L736.74 232.95 L737.57 232.79 L738.40 232.61 L739.23 232.44 L740.06 232.26 L740.89 232.08 L741.72 231.90 L742.56 231.71 L743.39 231.52 L744.22 231.32 L745.05 231.13 L745.88 230.92 L746.71 230.72 L747.54 230.51 L748.37 230.29 L749.20 230.07 L750.03 229.85 L750.86 229.62 L751.69 229.39 L752.52 229.16 L753.36 228.92 L754.19 228.67 L755.02 228.42 L755.85 228.16 L756.68 227.90 L757.51 227.64 L758.34 227.37 L759.17 227.09 L760.00 226.81 L760.83 226.52 L761.66 226.22 L762.49 225.92 L763.32 225.61 L764.15 225.30 L764.99 224.98 L765.82 224.65 L766.65 224.31 L767.48 223.97 L768.31 223.62 L769.14 223.26 L769.97 222.90 L770.80 222.52 L771.63 222.14 L772.46 221.75 L773.29 221.35 L774.12 220.94 L774.95 220.52 L775.79 220.09 L776.62 219.64 L777.45 219.19 L778.28 218.73 L779.11 218.26 L779.94 217.77 L780.77 217.27 L781.60 216.76 L782.43 216.24 L783.26 215.70 L784.09 215.14 L784.92 214.58 L785.75 213.99 L786.59 213.40 L787.42 212.78 L788.25 212.15 L789.08 211.50 L789.91 210.83 L790.74 210.14 L791.57 209.43 L792.40 208.70 L793.23 207.95 L794.06 207.17 L794.89 206.37 L795.72 205.55 L796.55 204.70 L797.38 203.82 L798.22 202.91 L799.05 201.98 L799.88 201.01 L800.71 200.01 L801.54 198.97 L802.37 197.89 L803.20 196.78 L804.03 195.63 L804.86 194.43 L805.69 193.19 L806.52 191.90 L807.35 190.56 L808.18 189.16 L809.02 187.71 L809.85 186.20 L810.68 184.62 L811.51 182.98 L812.34 181.26 L813.17 179.46 L814.00 177.58" fill="none" stroke="#ff0000" stroke-width="1.15" stroke-linejoin="round" />
<path d="M481.70 208.05 L482.53 208.41 L483.36 208.77 L484.19 209.12 L485.02 209.46 L485.85 209.80 L486.68 210.13 L487.52 210.46 L488.35 210.79 L489.18 211.10 L490.01 211.42 L490.84 211.73 L491.67 212.03 L492.50 212.33 L493.33 212.62 L494.16 212.91 L494.99 213.20 L495.82 213.48 L496.65 213.76 L497.48 214.03 L498.32 214.30 L499.15 214.57 L499.98 214.83 L500.81 215.09 L501.64 215.34 L502.47 215.59 L503.30 215.84 L504.13 216.08 L504.96 216.32 L505.79 216.55 L506.62 216.79 L507.45 217.02 L508.28 217.24 L509.11 217.47 L509.95 217.69 L510.78 217.90 L511.61 218.12 L512.44 218.33 L513.27 218.54 L514.10 218.74 L514.93 218.94 L515.76 219.14 L516.59 219.34 L517.42 219.53 L518.25 219.72 L519.08 219.91 L519.91 220.10 L520.75 220.28 L521.58 220.46 L522.41 220.64 L523.24 220.82 L524.07 220.99 L524.90 221.16 L525.73 221.33 L526.56 221.50 L527.39 221.66 L528.22 221.83 L529.05 221.99 L529.88 222.14 L530.71 222.30 L531.55 222.45 L532.38 222.61 L533.21 222.76 L534.04 222.90 L534.87 223.05 L535.70 223.19 L536.53 223.34 L537.36 223.48 L538.19 223.62 L539.02 223.75 L539.85 223.89 L540.68 224.02 L541.51 224.15 L542.34 224.28 L543.18 224.41 L544.01 224.53 L544.84 224.66 L545.67 224.78 L546.50 224.90 L547.33 225.02 L548.16 225.14 L548.99 225.26 L549.82 225.37 L550.65 225.48 L551.48 225.60 L552.31 225.71 L553.14 225.81 L553.98 225.92 L554.81 226.03 L555.64 226.13 L556.47 226.24 L557.30 226.34 L558.13 226.44 L558.96 226.54 L559.79 226.63 L560.62 226.73 L561.45 226.82 L562.28 226.92 L563.11 227.01 L563.94 227.10 L564.77 227.19 L565.61 227.28 L566.44 227.37 L567.27 227.45 L568.10 227.54 L568.93 227.62 L569.76 227.70 L570.59 227.78 L571.42 227.86 L572.25 227.94 L573.08 228.02 L573.91 228.10 L574.74 228.17 L575.57 228.25 L576.41 228.32 L577.24 228.39 L578.07 228.46 L578.90 228.53 L579.73 228.60 L580.56 228.67 L581.39 228.74 L582.22 228.80 L583.05 228.87 L583.88 228.93 L584.71 229.00 L585.54 229.06 L586.37 229.12 L587.21 229.18 L588.04 229.24 L588.87 229.29 L589.70 229.35 L590.53 229.41 L591.36 229.46 L592.19 229.52 L593.02 229.57 L593.85 229.62 L594.68 229.67 L595.51 229.72 L596.34 229.77 L597.17 229.82 L598.00 229.87 L598.84 229.92 L599.67 229.96 L600.50 230.01 L601.33 230.05 L602.16 230.09 L602.99 230.14 L603.82 230.18 L604.65 230.22 L605.48 230.26 L606.31 230.30 L607.14 230.33 L607.97 230.37 L608.80 230.41 L609.64 230.44 L610.47 230.48 L611.30 230.51 L612.13 230.54 L612.96 230.58 L613.79 230.61 L614.62 230.64 L615.45 230.67 L616.28 230.70 L617.11 230.73 L617.94 230.75 L618.77 230.78 L619.60 230.81 L620.44 230.83 L621.27 230.86 L622.10 230.88 L622.93 230.90 L623.76 230.92 L624.59 230.95 L625.42 230.97 L626.25 230.99 L627.08 231.00 L627.91 231.02 L628.74 231.04 L629.57 231.06 L630.40 231.07 L631.24 231.09 L632.07 231.10 L632.90 231.12 L633.73 231.13 L634.56 231.14 L635.39 231.15 L636.22 231.16 L637.05 231.17 L637.88 231.18 L638.71 231.19 L639.54 231.20 L640.37 231.21 L641.20 231.21 L642.03 231.22 L642.87 231.22 L643.70 231.23 L644.53 231.23 L645.36 231.23 L646.19 231.23 L647.02 231.24 L647.85 231.24 L648.68 231.24 L649.51 231.23 L650.34 231.23 L651.17 231.23 L652.00 231.23 L652.83 231.22 L653.67 231.22 L654.50 231.21 L655.33 231.21 L656.16 231.20 L656.99 231.19 L657.82 231.18 L658.65 231.17 L659.48 231.16 L660.31 231.15 L661.14 231.14 L661.97 231.13 L662.80 231.12 L663.63 231.10 L664.47 231.09 L665.30 231.07 L666.13 231.06 L666.96 231.04 L667.79 231.02 L668.62 231.00 L669.45 230.99 L670.28 230.97 L671.11 230.95 L671.94 230.92 L672.77 230.90 L673.60 230.88 L674.43 230.86 L675.26 230.83 L676.10 230.81 L676.93 230.78 L677.76 230.75 L678.59 230.73 L679.42 230.70 L680.25 230.67 L681.08 230.64 L681.91 230.61 L682.74 230.58 L683.57 230.54 L684.40 230.51 L685.23 230.48 L686.06 230.44 L686.90 230.41 L687.73 230.37 L688.56 230.33 L689.39 230.30 L690.22 230.26 L691.05 230.22 L691.88 230.18 L692.71 230.14 L693.54 230.09 L694.37 230.05 L695.20 230.01 L696.03 229.96 L696.86 229.92 L697.70 229.87 L698.53 229.82 L699.36 229.77 L700.19 229.72 L701.02 229.67 L701.85 229.62 L702.68 229.57 L703.51 229.52 L704.34 229.46 L705.17 229.41 L706.00 229.35 L706.83 229.29 L707.66 229.24 L708.49 229.18 L709.33 229.12 L710.16 229.06 L710.99 229.00 L711.82 228.93 L712.65 228.87 L713.48 228.80 L714.31 228.74 L715.14 228.67 L715.97 228.60 L716.80 228.53 L717.63 228.46 L718.46 228.39 L719.29 228.32 L720.13 228.25 L720.96 228.17 L721.79 228.10 L722.62 228.02 L723.45 227.94 L724.28 227.86 L725.11 227.78 L725.94 227.70 L726.77 227.62 L727.60 227.54 L728.43 227.45 L729.26 227.37 L730.09 227.28 L730.93 227.19 L731.76 227.10 L732.59 227.01 L733.42 226.92 L734.25 226.82 L735.08 226.73 L735.91 226.63 L736.74 226.54 L737.57 226.44 L738.40 226.34 L739.23 226.24 L740.06 226.13 L740.89 226.03 L741.72 225.92 L742.56 225.81 L743.39 225.71 L744.22 225.60 L745.05 225.48 L745.88 225.37 L746.71 225.26 L747.54 225.14 L748.37 225.02 L749.20 224.90 L750.03 224.78 L750.86 224.66 L751.69 224.53 L752.52 224.41 L753.36 224.28 L754.19 224.15 L755.02 224.02 L755.85 223.89 L756.68 223.75 L757.51 223.62 L758.34 223.48 L759.17 223.34 L760.00 223.19 L760.83 223.05 L761.66 222.90 L762.49 222.76 L763.32 222.61 L764.15 222.45 L764.99 222.30 L765.82 222.14 L766.65 221.99 L767.48 221.83 L768.31 221.66 L769.14 221.50 L769.97 221.33 L770.80 221.16 L771.63 220.99 L772.46 220.82 L773.29 220.64 L774.12 220.46 L774.95 220.28 L775.79 220.10 L776.62 219.91 L777.45 219.72 L778.28 219.53 L779.11 219.34 L779.94 219.14 L780.77 218.94 L781.60 218.74 L782.43 218.54 L783.26 218.33 L784.09 218.12 L784.92 217.90 L785.75 217.69 L786.59 217.47 L787.42 217.24 L788.25 217.02 L789.08 216.79 L789.91 216.55 L790.74 216.32 L791.57 216.08 L792.40 215.84 L793.23 215.59 L794.06 215.34 L794.89 215.09 L795.72 214.83 L796.55 214.57 L797.38 214.30 L798.22 214.03 L799.05 213.76 L799.88 213.48 L800.71 213.20 L801.54 212.91 L802.37 212.62 L803.20 212.33 L804.03 212.03 L804.86 211.73 L805.69 211.42 L806.52 211.10 L807.35 210.79 L808.18 210.46 L809.02 210.13 L809.85 209.80 L810.68 209.46 L811.51 209.12 L812.34 208.77 L813.17 208.41 L814.00 208.05" fill="none" stroke="#00ff00" stroke-width="1.15" stroke-linejoin="round" />
<path d="M481.70 203.00 L482.53 203.13 L483.36 203.27 L484.19 203.41 L485.02 203.55 L485.85 203.68 L486.68 203.81 L487.52 203.94 L488.35 204.08 L489.18 204.21 L490.01 204.33 L490.84 204.46 L491.67 204.59 L492.50 204.71 L493.33 204.84 L494.16 204.96 L494.99 205.08 L495.82 205.20 L496.65 205.32 L497.48 205.44 L498.32 205.56 L499.15 205.68 L499.98 205.79 L500.81 205.91 L501.64 206.02 L502.47 206.13 L503.30 206.24 L504.13 206.35 L504.96 206.46 L505.79 206.57 L506.62 206.68 L507.45 206.79 L508.28 206.89 L509.11 207.00 L509.95 207.10 L510.78 207.20 L511.61 207.30 L512.44 207.41 L513.27 207.51 L514.10 207.60 L514.93 207.70 L515.76 207.80 L516.59 207.90 L517.42 207.99 L518.25 208.09 L519.08 208.18 L519.91 208.27 L520.75 208.37 L521.58 208.46 L522.41 208.55 L523.24 208.64 L524.07 208.73 L524.90 208.81 L525.73 208.90 L526.56 208.99 L527.39 209.07 L528.22 209.16 L529.05 209.24 L529.88 209.32 L530.71 209.41 L531.55 209.49 L532.38 209.57 L533.21 209.65 L534.04 209.73 L534.87 209.80 L535.70 209.88 L536.53 209.96 L537.36 210.03 L538.19 210.11 L539.02 210.18 L539.85 210.26 L540.68 210.33 L541.51 210.40 L542.34 210.48 L543.18 210.55 L544.01 210.62 L544.84 210.69 L545.67 210.76 L546.50 210.82 L547.33 210.89 L548.16 210.96 L548.99 211.02 L549.82 211.09 L550.65 211.15 L551.48 211.22 L552.31 211.28 L553.14 211.34 L553.98 211.41 L554.81 211.47 L555.64 211.53 L556.47 211.59 L557.30 211.65 L558.13 211.70 L558.96 211.76 L559.79 211.82 L560.62 211.88 L561.45 211.93 L562.28 211.99 L563.11 212.04 L563.94 212.10 L564.77 212.15 L565.61 212.20 L566.44 212.26 L567.27 212.31 L568.10 212.36 L568.93 212.41 L569.76 212.46 L570.59 212.51 L571.42 212.56 L572.25 212.61 L573.08 212.65 L573.91 212.70 L574.74 212.75 L575.57 212.79 L576.41 212.84 L577.24 212.88 L578.07 212.92 L578.90 212.97 L579.73 213.01 L580.56 213.05 L581.39 213.09 L582.22 213.14 L583.05 213.18 L583.88 213.22 L584.71 213.26 L585.54 213.29 L586.37 213.33 L587.21 213.37 L588.04 213.41 L588.87 213.44 L589.70 213.48 L590.53 213.51 L591.36 213.55 L592.19 213.58 L593.02 213.62 L593.85 213.65 L594.68 213.68 L595.51 213.72 L596.34 213.75 L597.17 213.78 L598.00 213.81 L598.84 213.84 L599.67 213.87 L600.50 213.90 L601.33 213.93 L602.16 213.95 L602.99 213.98 L603.82 214.01 L604.65 214.03 L605.48 214.06 L606.31 214.09 L607.14 214.11 L607.97 214.13 L608.80 214.16 L609.64 214.18 L610.47 214.20 L611.30 214.23 L612.13 214.25 L612.96 214.27 L613.79 214.29 L614.62 214.31 L615.45 214.33 L616.28 214.35 L617.11 214.37 L617.94 214.38 L618.77 214.40 L619.60 214.42 L620.44 214.44 L621.27 214.45 L622.10 214.47 L622.93 214.48 L623.76 214.50 L624.59 214.51 L625.42 214.52 L626.25 214.54 L627.08 214.55 L627.91 214.56 L628.74 214.57 L629.57 214.58 L630.40 214.60 L631.24 214.61 L632.07 214.61 L632.90 214.62 L633.73 214.63 L634.56 214.64 L635.39 214.65 L636.22 214.66 L637.05 214.66 L637.88 214.67 L638.71 214.67 L639.54 214.68 L640.37 214.68 L641.20 214.69 L642.03 214.69 L642.87 214.69 L643.70 214.70 L644.53 214.70 L645.36 214.70 L646.19 214.70 L647.02 214.70 L647.85 214.70 L648.68 214.70 L649.51 214.70 L650.34 214.70 L651.17 214.70 L652.00 214.70 L652.83 214.69 L653.67 214.69 L654.50 214.69 L655.33 214.68 L656.16 214.68 L656.99 214.67 L657.82 214.67 L658.65 214.66 L659.48 214.66 L660.31 214.65 L661.14 214.64 L661.97 214.63 L662.80 214.62 L663.63 214.61 L664.47 214.61 L665.30 214.60 L666.13 214.58 L666.96 214.57 L667.79 214.56 L668.62 214.55 L669.45 214.54 L670.28 214.52 L671.11 214.51 L671.94 214.50 L672.77 214.48 L673.60 214.47 L674.43 214.45 L675.26 214.44 L676.10 214.42 L676.93 214.40 L677.76 214.38 L678.59 214.37 L679.42 214.35 L680.25 214.33 L681.08 214.31 L681.91 214.29 L682.74 214.27 L683.57 214.25 L684.40 214.23 L685.23 214.20 L686.06 214.18 L686.90 214.16 L687.73 214.13 L688.56 214.11 L689.39 214.09 L690.22 214.06 L691.05 214.03 L691.88 214.01 L692.71 213.98 L693.54 213.95 L694.37 213.93 L695.20 213.90 L696.03 213.87 L696.86 213.84 L697.70 213.81 L698.53 213.78 L699.36 213.75 L700.19 213.72 L701.02 213.68 L701.85 213.65 L702.68 213.62 L703.51 213.58 L704.34 213.55 L705.17 213.51 L706.00 213.48 L706.83 213.44 L707.66 213.41 L708.49 213.37 L709.33 213.33 L710.16 213.29 L710.99 213.26 L711.82 213.22 L712.65 213.18 L713.48 213.14 L714.31 213.09 L715.14 213.05 L715.97 213.01 L716.80 212.97 L717.63 212.92 L718.46 212.88 L719.29 212.84 L720.13 212.79 L720.96 212.75 L721.79 212.70 L722.62 212.65 L723.45 212.61 L724.28 212.56 L725.11 212.51 L725.94 212.46 L726.77 212.41 L727.60 212.36 L728.43 212.31 L729.26 212.26 L730.09 212.20 L730.93 212.15 L731.76 212.10 L732.59 212.04 L733.42 211.99 L734.25 211.93 L735.08 211.88 L735.91 211.82 L736.74 211.76 L737.57 211.70 L738.40 211.65 L739.23 211.59 L740.06 211.53 L740.89 211.47 L741.72 211.41 L742.56 211.34 L743.39 211.28 L744.22 211.22 L745.05 211.15 L745.88 211.09 L746.71 211.02 L747.54 210.96 L748.37 210.89 L749.20 210.82 L750.03 210.76 L750.86 210.69 L751.69 210.62 L752.52 210.55 L753.36 210.48 L754.19 210.40 L755.02 210.33 L755.85 210.26 L756.68 210.18 L757.51 210.11 L758.34 210.03 L759.17 209.96 L760.00 209.88 L760.83 209.80 L761.66 209.73 L762.49 209.65 L763.32 209.57 L764.15 209.49 L764.99 209.41 L765.82 209.32 L766.65 209.24 L767.48 209.16 L768.31 209.07 L769.14 208.99 L769.97 208.90 L770.80 208.81 L771.63 208.73 L772.46 208.64 L773.29 208.55 L774.12 208.46 L774.95 208.37 L775.79 208.27 L776.62 208.18 L777.45 208.09 L778.28 207.99 L779.11 207.90 L779.94 207.80 L780.77 207.70 L781.60 207.60 L782.43 207.51 L783.26 207.41 L784.09 207.30 L784.92 207.20 L785.75 207.10 L786.59 207.00 L787.42 206.89 L788.25 206.79 L789.08 206.68 L789.91 206.57 L790.74 206.46 L791.57 206.35 L792.40 206.24 L793.23 206.13 L794.06 206.02 L794.89 205.91 L795.72 205.79 L796.55 205.68 L797.38 205.56 L798.22 205.44 L799.05 205.32 L799.88 205.20 L800.71 205.08 L801.54 204.96 L802.37 204.84 L803.20 204.71 L804.03 204.59 L804.86 204.46 L805.69 204.33 L806.52 204.21 L807.35 204.08 L808.18 203.94 L809.02 203.81 L809.85 203.68 L810.68 203.55 L811.51 203.41 L812.34 203.27 L813.17 203.13 L814.00 203.00" fill="none" stroke="#0000ff" stroke-width="1.15" stroke-linejoin="round" />
<path d="M481.70 160.00 L482.53 160.06 L483.36 160.11 L484.19 160.16 L485.02 160.21 L485.85 160.26 L486.68 160.32 L487.52 160.37 L488.35 160.42 L489.18 160.47 L490.01 160.52 L490.84 160.57 L491.67 160.62 L492.50 160.67 L493.33 160.72 L494.16 160.77 L494.99 160.81 L495.82 160.86 L496.65 160.91 L497.48 160.96 L498.32 161.01 L499.15 161.05 L499.98 161.10 L500.81 161.15 L501.64 161.19 L502.47 161.24 L503.30 161.28 L504.13 161.33 L504.96 161.37 L505.79 161.42 L506.62 161.46 L507.45 161.51 L508.28 161.55 L509.11 161.59 L509.95 161.64 L510.78 161.68 L511.61 161.72 L512.44 161.76 L513.27 161.81 L514.10 161.85 L514.93 161.89 L515.76 161.93 L516.59 161.97 L517.42 162.01 L518.25 162.05 L519.08 162.09 L519.91 162.13 L520.75 162.17 L521.58 162.21 L522.41 162.25 L523.24 162.29 L524.07 162.33 L524.90 162.36 L525.73 162.40 L526.56 162.44 L527.39 162.48 L528.22 162.51 L529.05 162.55 L529.88 162.59 L530.71 162.62 L531.55 162.66 L532.38 162.69 L533.21 162.73 L534.04 162.76 L534.87 162.80 L535.70 162.83 L536.53 162.87 L537.36 162.90 L538.19 162.94 L539.02 162.97 L539.85 163.00 L540.68 163.03 L541.51 163.07 L542.34 163.10 L543.18 163.13 L544.01 163.16 L544.84 163.19 L545.67 163.23 L546.50 163.26 L547.33 163.29 L548.16 163.32 L548.99 163.35 L549.82 163.38 L550.65 163.41 L551.48 163.44 L552.31 163.47 L553.14 163.49 L553.98 163.52 L554.81 163.55 L555.64 163.58 L556.47 163.61 L557.30 163.63 L558.13 163.66 L558.96 163.69 L559.79 163.72 L560.62 163.74 L561.45 163.77 L562.28 163.79 L563.11 163.82 L563.94 163.85 L564.77 163.87 L565.61 163.90 L566.44 163.92 L567.27 163.94 L568.10 163.97 L568.93 163.99 L569.76 164.02 L570.59 164.04 L571.42 164.06 L572.25 164.08 L573.08 164.11 L573.91 164.13 L574.74 164.15 L575.57 164.17 L576.41 164.19 L577.24 164.22 L578.07 164.24 L578.90 164.26 L579.73 164.28 L580.56 164.30 L581.39 164.32 L582.22 164.34 L583.05 164.36 L583.88 164.38 L584.71 164.40 L585.54 164.41 L586.37 164.43 L587.21 164.45 L588.04 164.47 L588.87 164.49 L589.70 164.50 L590.53 164.52 L591.36 164.54 L592.19 164.55 L593.02 164.57 L593.85 164.59 L594.68 164.60 L595.51 164.62 L596.34 164.63 L597.17 164.65 L598.00 164.66 L598.84 164.68 L599.67 164.69 L600.50 164.71 L601.33 164.72 L602.16 164.74 L602.99 164.75 L603.82 164.76 L604.65 164.77 L605.48 164.79 L606.31 164.80 L607.14 164.81 L607.97 164.82 L608.80 164.84 L609.64 164.85 L610.47 164.86 L611.30 164.87 L612.13 164.88 L612.96 164.89 L613.79 164.90 L614.62 164.91 L615.45 164.92 L616.28 164.93 L617.11 164.94 L617.94 164.95 L618.77 164.96 L619.60 164.97 L620.44 164.97 L621.27 164.98 L622.10 164.99 L622.93 165.00 L623.76 165.00 L624.59 165.01 L625.42 165.02 L626.25 165.02 L627.08 165.03 L627.91 165.04 L628.74 165.04 L629.57 165.05 L630.40 165.05 L631.24 165.06 L632.07 165.06 L632.90 165.07 L633.73 165.07 L634.56 165.08 L635.39 165.08 L636.22 165.08 L637.05 165.09 L637.88 165.09 L638.71 165.09 L639.54 165.09 L640.37 165.10 L641.20 165.10 L642.03 165.10 L642.87 165.10 L643.70 165.10 L644.53 165.10 L645.36 165.11 L646.19 165.11 L647.02 165.11 L647.85 165.11 L648.68 165.11 L649.51 165.11 L650.34 165.11 L651.17 165.10 L652.00 165.10 L652.83 165.10 L653.67 165.10 L654.50 165.10 L655.33 165.10 L656.16 165.09 L656.99 165.09 L657.82 165.09 L658.65 165.09 L659.48 165.08 L660.31 165.08 L661.14 165.08 L661.97 165.07 L662.80 165.07 L663.63 165.06 L664.47 165.06 L665.30 165.05 L666.13 165.05 L666.96 165.04 L667.79 165.04 L668.62 165.03 L669.45 165.02 L670.28 165.02 L671.11 165.01 L671.94 165.00 L672.77 165.00 L673.60 164.99 L674.43 164.98 L675.26 164.97 L676.10 164.97 L676.93 164.96 L677.76 164.95 L678.59 164.94 L679.42 164.93 L680.25 164.92 L681.08 164.91 L681.91 164.90 L682.74 164.89 L683.57 164.88 L684.40 164.87 L685.23 164.86 L686.06 164.85 L686.90 164.84 L687.73 164.82 L688.56 164.81 L689.39 164.80 L690.22 164.79 L691.05 164.77 L691.88 164.76 L692.71 164.75 L693.54 164.74 L694.37 164.72 L695.20 164.71 L696.03 164.69 L696.86 164.68 L697.70 164.66 L698.53 164.65 L699.36 164.63 L700.19 164.62 L701.02 164.60 L701.85 164.59 L702.68 164.57 L703.51 164.55 L704.34 164.54 L705.17 164.52 L706.00 164.50 L706.83 164.49 L707.66 164.47 L708.49 164.45 L709.33 164.43 L710.16 164.41 L710.99 164.40 L711.82 164.38 L712.65 164.36 L713.48 164.34 L714.31 164.32 L715.14 164.30 L715.97 164.28 L716.80 164.26 L717.63 164.24 L718.46 164.22 L719.29 164.19 L720.13 164.17 L720.96 164.15 L721.79 164.13 L722.62 164.11 L723.45 164.08 L724.28 164.06 L725.11 164.04 L725.94 164.02 L726.77 163.99 L727.60 163.97 L728.43 163.94 L729.26 163.92 L730.09 163.90 L730.93 163.87 L731.76 163.85 L732.59 163.82 L733.42 163.79 L734.25 163.77 L735.08 163.74 L735.91 163.72 L736.74 163.69 L737.57 163.66 L738.40 163.63 L739.23 163.61 L740.06 163.58 L740.89 163.55 L741.72 163.52 L742.56 163.49 L743.39 163.47 L744.22 163.44 L745.05 163.41 L745.88 163.38 L746.71 163.35 L747.54 163.32 L748.37 163.29 L749.20 163.26 L750.03 163.23 L750.86 163.19 L751.69 163.16 L752.52 163.13 L753.36 163.10 L754.19 163.07 L755.02 163.03 L755.85 163.00 L756.68 162.97 L757.51 162.94 L758.34 162.90 L759.17 162.87 L760.00 162.83 L760.83 162.80 L761.66 162.76 L762.49 162.73 L763.32 162.69 L764.15 162.66 L764.99 162.62 L765.82 162.59 L766.65 162.55 L767.48 162.51 L768.31 162.48 L769.14 162.44 L769.97 162.40 L770.80 162.36 L771.63 162.33 L772.46 162.29 L773.29 162.25 L774.12 162.21 L774.95 162.17 L775.79 162.13 L776.62 162.09 L777.45 162.05 L778.28 162.01 L779.11 161.97 L779.94 161.93 L780.77 161.89 L781.60 161.85 L782.43 161.81 L783.26 161.76 L784.09 161.72 L784.92 161.68 L785.75 161.64 L786.59 161.59 L787.42 161.55 L788.25 161.51 L789.08 161.46 L789.91 161.42 L790.74 161.37 L791.57 161.33 L792.40 161.28 L793.23 161.24 L794.06 161.19 L794.89 161.15 L795.72 161.10 L796.55 161.05 L797.38 161.01 L798.22 160.96 L799.05 160.91 L799.88 160.86 L800.71 160.81 L801.54 160.77 L802.37 160.72 L803.20 160.67 L804.03 160.62 L804.86 160.57 L805.69 160.52 L806.52 160.47 L807.35 160.42 L808.18 160.37 L809.02 160.32 L809.85 160.26 L810.68 160.21 L811.51 160.16 L812.34 160.11 L813.17 160.06 L814.00 160.00" fill="none" stroke="#00ffff" stroke-width="1.15" stroke-linejoin="round" />
</g>
<g stroke="#111" stroke-width="0.8" fill="none">
<rect x="66.5" y="15.0" width="332.0" height="249.3"/>
<rect x="481.7" y="15.0" width="332.3" height="249.3"/>
<line x1="80.33" y1="264.30" x2="80.33" y2="261.60"/>
<line x1="80.33" y1="15.00" x2="80.33" y2="17.70"/>
<line x1="94.17" y1="264.30" x2="94.17" y2="259.10"/>
<line x1="94.17" y1="15.00" x2="94.17" y2="20.20"/>
<line x1="108.00" y1="264.30" x2="108.00" y2="261.60"/>
<line x1="108.00" y1="15.00" x2="108.00" y2="17.70"/>
<line x1="121.83" y1="264.30" x2="121.83" y2="261.60"/>
<line x1="121.83" y1="15.00" x2="121.83" y2="17.70"/>
<line x1="135.67" y1="264.30" x2="135.67" y2="261.60"/>
<line x1="135.67" y1="15.00" x2="135.67" y2="17.70"/>
<line x1="149.50" y1="264.30" x2="149.50" y2="261.60"/>
<line x1="149.50" y1="15.00" x2="149.50" y2="17.70"/>
<line x1="163.33" y1="264.30" x2="163.33" y2="259.10"/>
<line x1="163.33" y1="15.00" x2="163.33" y2="20.20"/>
<line x1="177.17" y1="264.30" x2="177.17" y2="261.60"/>
<line x1="177.17" y1="15.00" x2="177.17" y2="17.70"/>
<line x1="191.00" y1="264.30" x2="191.00" y2="261.60"/>
<line x1="191.00" y1="15.00" x2="191.00" y2="17.70"/>
<line x1="204.83" y1="264.30" x2="204.83" y2="261.60"/>
<line x1="204.83" y1="15.00" x2="204.83" y2="17.70"/>
<line x1="218.67" y1="264.30" x2="218.67" y2="261.60"/>
<line x1="218.67" y1="15.00" x2="218.67" y2="17.70"/>
<line x1="232.50" y1="264.30" x2="232.50" y2="259.10"/>
<line x1="232.50" y1="15.00" x2="232.50" y2="20.20"/>
<line x1="246.33" y1="264.30" x2="246.33" y2="261.60"/>
<line x1="246.33" y1="15.00" x2="246.33" y2="17.70"/>
<line x1="260.17" y1="264.30" x2="260.17" y2="261.60"/>
<line x1="260.17" y1="15.00" x2="260.17" y2="17.70"/>
<line x1="274.00" y1="264.30" x2="274.00" y2="261.60"/>
<line x1="274.00" y1="15.00" x2="274.00" y2="17.70"/>
<line x1="287.83" y1="264.30" x2="287.83" y2="261.60"/>
<line x1="287.83" y1="15.00" x2="287.83" y2="17.70"/>
<line x1="301.67" y1="264.30" x2="301.67" y2="259.10"/>
<line x1="301.67" y1="15.00" x2="301.67" y2="20.20"/>
<line x1="315.50" y1="264.30" x2="315.50" y2="261.60"/>
<line x1="315.50" y1="15.00" x2="315.50" y2="17.70"/>
<line x1="329.33" y1="264.30" x2="329.33" y2="261.60"/>
<line x1="329.33" y1="15.00" x2="329.33" y2="17.70"/>
<line x1="343.17" y1="264.30" x2="343.17" y2="261.60"/>
<line x1="343.17" y1="15.00" x2="343.17" y2="17.70"/>
<line x1="357.00" y1="264.30" x2="357.00" y2="261.60"/>
<line x1="357.00" y1="15.00" x2="357.00" y2="17.70"/>
<line x1="370.83" y1="264.30" x2="370.83" y2="259.10"/>
<line x1="370.83" y1="15.00" x2="370.83" y2="20.20"/>
<line x1="384.67" y1="264.30" x2="384.67" y2="261.60"/>
<line x1="384.67" y1="15.00" x2="384.67" y2="17.70"/>
<line x1="66.50" y1="250.45" x2="69.80" y2="250.45"/>
<line x1="398.50" y1="250.45" x2="395.20" y2="250.45"/>
<line x1="66.50" y1="236.60" x2="69.80" y2="236.60"/>
<line x1="398.50" y1="236.60" x2="395.20" y2="236.60"/>
<line x1="66.50" y1="222.75" x2="69.80" y2="222.75"/>
<line x1="398.50" y1="222.75" x2="395.20" y2="222.75"/>
<line x1="66.50" y1="208.90" x2="69.80" y2="208.90"/>
<line x1="398.50" y1="208.90" x2="395.20" y2="208.90"/>
<line x1="66.50" y1="195.05" x2="72.90" y2="195.05"/>
<line x1="398.50" y1="195.05" x2="392.10" y2="195.05"/>
<line x1="66.50" y1="181.20" x2="69.80" y2="181.20"/>
<line x1="398.50" y1="181.20" x2="395.20" y2="181.20"/>
<line x1="66.50" y1="167.35" x2="69.80" y2="167.35"/>
<line x1="398.50" y1="167.35" x2="395.20" y2="167.35"/>
<line x1="66.50" y1="153.50" x2="69.80" y2="153.50"/>
<line x1="398.50" y1="153.50" x2="395.20" y2="153.50"/>
<line x1="66.50" y1="139.65" x2="69.80" y2="139.65"/>
<line x1="398.50" y1="139.65" x2="395.20" y2="139.65"/>
<line x1="66.50" y1="125.80" x2="72.90" y2="125.80"/>
<line x1="398.50" y1="125.80" x2="392.10" y2="125.80"/>
<line x1="66.50" y1="111.95" x2="69.80" y2="111.95"/>
<line x1="398.50" y1="111.95" x2="395.20" y2="111.95"/>
<line x1="66.50" y1="98.10" x2="69.80" y2="98.10"/>
<line x1="398.50" y1="98.10" x2="395.20" y2="98.10"/>
<line x1="66.50" y1="84.25" x2="69.80" y2="84.25"/>
<line x1="398.50" y1="84.25" x2="395.20" y2="84.25"/>
<line x1="66.50" y1="70.40" x2="69.80" y2="70.40"/>
<line x1="398.50" y1="70.40" x2="395.20" y2="70.40"/>
<line x1="66.50" y1="56.55" x2="72.90" y2="56.55"/>
<line x1="398.50" y1="56.55" x2="392.10" y2="56.55"/>
<line x1="66.50" y1="42.70" x2="69.80" y2="42.70"/>
<line x1="398.50" y1="42.70" x2="395.20" y2="42.70"/>
<line x1="66.50" y1="28.85" x2="69.80" y2="28.85"/>
<line x1="398.50" y1="28.85" x2="395.20" y2="28.85"/>
<line x1="481.70" y1="264.30" x2="481.70" y2="259.10"/>
<line x1="481.70" y1="15.00" x2="481.70" y2="20.20"/>
<line x1="498.32" y1="264.30" x2="498.32" y2="261.60"/>
<line x1="498.32" y1="15.00" x2="498.32" y2="17.70"/>
<line x1="514.93" y1="264.30" x2="514.93" y2="261.60"/>
<line x1="514.93" y1="15.00" x2="514.93" y2="17.70"/>
<line x1="531.55" y1="264.30" x2="531.55" y2="261.60"/>
<line x1="531.55" y1="15.00" x2="531.55" y2="17.70"/>
<line x1="548.16" y1="264.30" x2="548.16" y2="261.60"/>
<line x1="548.16" y1="15.00" x2="548.16" y2="17.70"/>
<line x1="564.77" y1="264.30" x2="564.77" y2="259.10"/>
<line x1="564.77" y1="15.00" x2="564.77" y2="20.20"/>
<line x1="581.39" y1="264.30" x2="581.39" y2="261.60"/>
<line x1="581.39" y1="15.00" x2="581.39" y2="17.70"/>
<line x1="598.00" y1="264.30" x2="598.00" y2="261.60"/>
<line x1="598.00" y1="15.00" x2="598.00" y2="17.70"/>
<line x1="614.62" y1="264.30" x2="614.62" y2="261.60"/>
<line x1="614.62" y1="15.00" x2="614.62" y2="17.70"/>
<line x1="631.24" y1="264.30" x2="631.24" y2="261.60"/>
<line x1="631.24" y1="15.00" x2="631.24" y2="17.70"/>
<line x1="647.85" y1="264.30" x2="647.85" y2="259.10"/>
<line x1="647.85" y1="15.00" x2="647.85" y2="20.20"/>
<line x1="664.47" y1="264.30" x2="664.47" y2="261.60"/>
<line x1="664.47" y1="15.00" x2="664.47" y2="17.70"/>
<line x1="681.08" y1="264.30" x2="681.08" y2="261.60"/>
<line x1="681.08" y1="15.00" x2="681.08" y2="17.70"/>
<line x1="697.70" y1="264.30" x2="697.70" y2="261.60"/>
<line x1="697.70" y1="15.00" x2="697.70" y2="17.70"/>
<line x1="714.31" y1="264.30" x2="714.31" y2="261.60"/>
<line x1="714.31" y1="15.00" x2="714.31" y2="17.70"/>
<line x1="730.93" y1="264.30" x2="730.93" y2="259.10"/>
<line x1="730.93" y1="15.00" x2="730.93" y2="20.20"/>
<line x1="747.54" y1="264.30" x2="747.54" y2="261.60"/>
<line x1="747.54" y1="15.00" x2="747.54" y2="17.70"/>
<line x1="764.15" y1="264.30" x2="764.15" y2="261.60"/>
<line x1="764.15" y1="15.00" x2="764.15" y2="17.70"/>
<line x1="780.77" y1="264.30" x2="780.77" y2="261.60"/>
<line x1="780.77" y1="15.00" x2="780.77" y2="17.70"/>
<line x1="797.38" y1="264.30" x2="797.38" y2="261.60"/>
<line x1="797.38" y1="15.00" x2="797.38" y2="17.70"/>
<line x1="814.00" y1="264.30" x2="814.00" y2="259.10"/>
<line x1="814.00" y1="15.00" x2="814.00" y2="20.20"/>
<line x1="481.70" y1="248.72" x2="485.00" y2="248.72"/>
<line x1="814.00" y1="248.72" x2="810.70" y2="248.72"/>
<line x1="481.70" y1="233.14" x2="485.00" y2="233.14"/>
<line x1="814.00" y1="233.14" x2="810.70" y2="233.14"/>
<line x1="481.70" y1="217.56" x2="485.00" y2="217.56"/>
<line x1="814.00" y1="217.56" x2="810.70" y2="217.56"/>
<line x1="481.70" y1="201.98" x2="488.10" y2="201.98"/>
<line x1="814.00" y1="201.98" x2="807.60" y2="201.98"/>
<line x1="481.70" y1="186.39" x2="485.00" y2="186.39"/>
<line x1="814.00" y1="186.39" x2="810.70" y2="186.39"/>
<line x1="481.70" y1="170.81" x2="485.00" y2="170.81"/>
<line x1="814.00" y1="170.81" x2="810.70" y2="170.81"/>
<line x1="481.70" y1="155.23" x2="485.00" y2="155.23"/>
<line x1="814.00" y1="155.23" x2="810.70" y2="155.23"/>
<line x1="481.70" y1="139.65" x2="488.10" y2="139.65"/>
<line x1="814.00" y1="139.65" x2="807.60" y2="139.65"/>
<line x1="481.70" y1="124.07" x2="485.00" y2="124.07"/>
<line x1="814.00" y1="124.07" x2="810.70" y2="124.07"/>
<line x1="481.70" y1="108.49" x2="485.00" y2="108.49"/>
<line x1="814.00" y1="108.49" x2="810.70" y2="108.49"/>
<line x1="481.70" y1="92.91" x2="485.00" y2="92.91"/>
<line x1="814.00" y1="92.91" x2="810.70" y2="92.91"/>
<line x1="481.70" y1="77.32" x2="488.10" y2="77.32"/>
<line x1="814.00" y1="77.32" x2="807.60" y2="77.32"/>
<line x1="481.70" y1="61.74" x2="485.00" y2="61.74"/>
<line x1="814.00" y1="61.74" x2="810.70" y2="61.74"/>
<line x1="481.70" y1="46.16" x2="485.00" y2="46.16"/>
<line x1="814.00" y1="46.16" x2="810.70" y2="46.16"/>
<line x1="481.70" y1="30.58" x2="485.00" y2="30.58"/>
<line x1="814.00" y1="30.58" x2="810.70" y2="30.58"/>
</g>
<g font-family="Liberation Sans, sans-serif" font-size="19.5" fill="#000">
<g font-size="19.2">
<text x="94.17" y="288.6" text-anchor="middle">-<tspan dx="-0.7">1.0</tspan></text>
<text x="481.70" y="288.6" text-anchor="middle">-<tspan dx="-0.7">1.0</tspan></text>
<text x="163.33" y="288.6" text-anchor="middle">-<tspan dx="-0.7">0.5</tspan></text>
<text x="564.77" y="288.6" text-anchor="middle">-<tspan dx="-0.7">0.5</tspan></text>
<text x="232.50" y="288.6" text-anchor="middle">0.0</text>
<text x="647.85" y="288.6" text-anchor="middle">0.0</text>
<text x="301.67" y="288.6" text-anchor="middle">0.5</text>
<text x="730.93" y="288.6" text-anchor="middle">0.5</text>
<text x="370.83" y="288.6" text-anchor="middle">1.0</text>
<text x="814.00" y="288.6" text-anchor="middle">1.0</text>
<text x="61.50" y="265.00" text-anchor="end">0.0</text>
<text x="61.50" y="202.15" text-anchor="end">0.5</text>
<text x="61.50" y="132.90" text-anchor="end">1.0</text>
<text x="61.50" y="63.65" text-anchor="end">1.5</text>
<text x="476.70" y="265.00" text-anchor="end">0</text>
<text x="476.70" y="209.08" text-anchor="end">2</text>
<text x="476.70" y="146.75" text-anchor="end">4</text>
<text x="476.70" y="84.42" text-anchor="end">6</text>
<text x="476.70" y="26.60" text-anchor="end">8</text>
</g>
<text x="232.70" y="310.0" text-anchor="middle" xml:space="preserve">Horizontal Position - <tspan font-family="Liberation Serif, serif" font-style="italic" font-size="19.3">x / X</tspan></text>
<text x="647.25" y="310.0" text-anchor="middle" xml:space="preserve">Horizontal Position - <tspan font-family="Liberation Serif, serif" font-style="italic" font-size="19.3">x / X</tspan></text>
<text transform="translate(19.5 139.95) rotate(-90)" text-anchor="middle" xml:space="preserve">Loop Height - <tspan font-family="Liberation Serif, serif" font-style="italic" font-size="20.0">z<tspan font-size="12.4" dy="3.5" font-style="normal">0</tspan><tspan dy="-3.5">&#8202;</tspan><tspan dx="1.9">/</tspan><tspan dx="1.2">X</tspan></tspan></text>
<text transform="translate(449.9 140.45) rotate(-90)" text-anchor="middle" xml:space="preserve">Radius of Curvature - <tspan font-family="Liberation Serif, serif" font-style="italic" font-size="20.0">R<tspan font-size="12.4" dy="3.5" font-style="normal">0</tspan><tspan dy="-3.5">&#8202;</tspan><tspan dx="1.8">/</tspan><tspan dx="1.2">X</tspan></tspan></text>
<text x="395.8" y="37.0" text-anchor="end" font-family="Liberation Serif, serif" font-style="italic" font-size="18.2">(a)</text>
<text x="811.3" y="37.0" text-anchor="end" font-family="Liberation Serif, serif" font-style="italic" font-size="18.2">(b)</text>
<text y="39.50" fill="#000000" xml:space="preserve" font-size="17.6"><tspan x="647.5" font-family="Liberation Serif, serif" font-size="20.0">ε</tspan><tspan x="660.3" dy="2.7" font-family="Liberation Serif, serif" font-size="20.0">=</tspan><tspan x="675.8" dy="-2.7">-0.47</tspan><tspan x="720.7" font-family="Liberation Serif, serif" font-size="18.7">π</tspan></text>
<text y="61.50" fill="#ff0000" xml:space="preserve" font-size="17.6"><tspan x="647.5" font-family="Liberation Serif, serif" font-size="20.0">ε</tspan><tspan x="660.3" dy="2.7" font-family="Liberation Serif, serif" font-size="20.0">=</tspan><tspan x="675.8" dy="-2.7">-0.41</tspan><tspan x="720.7" font-family="Liberation Serif, serif" font-size="18.7">π</tspan></text>
<text y="83.50" fill="#00ff00" xml:space="preserve" font-size="17.6"><tspan x="647.5" font-family="Liberation Serif, serif" font-size="20.0">ε</tspan><tspan x="660.3" dy="2.7" font-family="Liberation Serif, serif" font-size="20.0">=</tspan><tspan x="675.8" dy="-2.7">-0.30</tspan><tspan x="720.7" font-family="Liberation Serif, serif" font-size="18.7">π</tspan></text>
<text y="105.50" fill="#0000ff" xml:space="preserve" font-size="17.6"><tspan x="647.5" font-family="Liberation Serif, serif" font-size="20.0">ε</tspan><tspan x="660.3" dy="2.7" font-family="Liberation Serif, serif" font-size="20.0">=</tspan><tspan x="675.8" dy="-2.7">-0.20</tspan><tspan x="720.7" font-family="Liberation Serif, serif" font-size="18.7">π</tspan></text>
<text y="127.50" fill="#00ffff" xml:space="preserve" font-size="17.6"><tspan x="647.5" font-family="Liberation Serif, serif" font-size="20.0">ε</tspan><tspan x="660.3" dy="2.7" font-family="Liberation Serif, serif" font-size="20.0">=</tspan><tspan x="675.8" dy="-2.7">-0.10</tspan><tspan x="720.7" font-family="Liberation Serif, serif" font-size="18.7">π</tspan></text>
</g>
</svg>
</body></html>
